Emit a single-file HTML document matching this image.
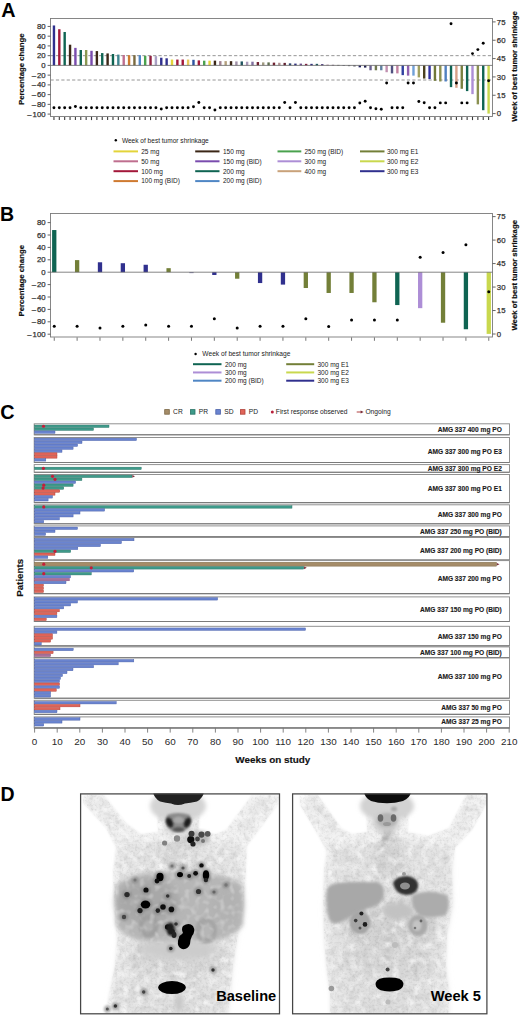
<!DOCTYPE html>
<html><head><meta charset="utf-8"><style>
html,body{margin:0;padding:0;background:#fff;}
svg{display:block;font-family:"Liberation Sans", sans-serif;}
</style></head><body>
<svg width="520" height="1015" viewBox="0 0 520 1015">
<defs>
<clipPath id="clipL"><rect x="80.4" y="793.6" width="199.6" height="219.9"/></clipPath>
<clipPath id="clipR"><rect x="292.5" y="793.6" width="194.5" height="219.9"/></clipPath>
<filter id="b05" x="-50%" y="-50%" width="200%" height="200%"><feGaussianBlur stdDeviation="0.6"/></filter>
<filter id="tex1" x="0" y="0" width="100%" height="100%"><feTurbulence type="fractalNoise" baseFrequency="0.16" numOctaves="2" seed="3" result="n"/><feGaussianBlur in="n" stdDeviation="0.7" result="nb"/><feColorMatrix in="nb" type="matrix" values="0 0 0 0 0 0 0 0 0 0 0 0 0 0 0 0.9 0 0 0 -0.38" result="na"/><feComposite in="na" in2="SourceAlpha" operator="in"/></filter>
<filter id="tex2" x="0" y="0" width="100%" height="100%"><feTurbulence type="fractalNoise" baseFrequency="0.16" numOctaves="2" seed="7" result="n"/><feGaussianBlur in="n" stdDeviation="0.7" result="nb"/><feColorMatrix in="nb" type="matrix" values="0 0 0 0 0 0 0 0 0 0 0 0 0 0 0 0.9 0 0 0 -0.38" result="na"/><feComposite in="na" in2="SourceAlpha" operator="in"/></filter>
<filter id="wtex1" x="0" y="0" width="100%" height="100%"><feTurbulence type="fractalNoise" baseFrequency="0.14" numOctaves="3" seed="11" result="n"/><feGaussianBlur in="n" stdDeviation="0.9" result="nb"/><feColorMatrix in="nb" type="matrix" values="0 0 0 0 1 0 0 0 0 1 0 0 0 0 1 2.6 0 0 0 -1.25" result="na"/><feComposite in="na" in2="SourceAlpha" operator="in"/></filter>
<filter id="wtex2" x="0" y="0" width="100%" height="100%"><feTurbulence type="fractalNoise" baseFrequency="0.14" numOctaves="3" seed="13" result="n"/><feGaussianBlur in="n" stdDeviation="0.9" result="nb"/><feColorMatrix in="nb" type="matrix" values="0 0 0 0 1 0 0 0 0 1 0 0 0 0 1 2.6 0 0 0 -1.25" result="na"/><feComposite in="na" in2="SourceAlpha" operator="in"/></filter>
<filter id="b15" x="-20%" y="-20%" width="140%" height="140%"><feGaussianBlur stdDeviation="1.5"/></filter>
<filter id="wtex3" x="0" y="0" width="100%" height="100%"><feTurbulence type="fractalNoise" baseFrequency="0.2" numOctaves="3" seed="17" result="n"/><feGaussianBlur in="n" stdDeviation="0.8" result="nb"/><feColorMatrix in="nb" type="matrix" values="0 0 0 0 1 0 0 0 0 1 0 0 0 0 1 2.6 0 0 0 -1.25" result="na"/><feComposite in="na" in2="SourceAlpha" operator="in"/></filter>
<filter id="grain" x="0" y="0" width="100%" height="100%"><feTurbulence type="fractalNoise" baseFrequency="0.45" numOctaves="2" seed="23" result="n"/><feGaussianBlur in="n" stdDeviation="0.45" result="nb"/><feColorMatrix in="nb" type="matrix" values="0 0 0 0 0 0 0 0 0 0 0 0 0 0 0 2.2 0 0 0 -1.05" result="na"/><feComposite in="na" in2="SourceAlpha" operator="in"/></filter>
<filter id="b1" x="-20%" y="-20%" width="140%" height="140%"><feGaussianBlur stdDeviation="1"/></filter>
<filter id="b2" x="-20%" y="-20%" width="140%" height="140%"><feGaussianBlur stdDeviation="2"/></filter>
<filter id="b3" x="-20%" y="-20%" width="140%" height="140%"><feGaussianBlur stdDeviation="3.5"/></filter>
</defs>
<text x="1.30" y="16.90" font-size="19.8" text-anchor="start" font-weight="bold" fill="#000" >A</text>
<rect x="50.5" y="18.5" width="442.0" height="98.0" fill="none" stroke="#7a7a7a" stroke-width="0.9"/>
<line x1="50.5" y1="55.66" x2="492.5" y2="55.66" stroke="#8a8a8a" stroke-width="0.9" stroke-dasharray="3.2,2.2"/>
<line x1="50.5" y1="80.01" x2="492.5" y2="80.01" stroke="#8a8a8a" stroke-width="0.9" stroke-dasharray="3.2,2.2"/>
<line x1="47.6" y1="26.44" x2="50.5" y2="26.44" stroke="#555" stroke-width="0.9"/>
<text x="45.60" y="29.04" font-size="7.8" text-anchor="end" font-weight="normal" fill="#333" stroke="#333" stroke-width="0.25">80</text>
<line x1="47.6" y1="36.18" x2="50.5" y2="36.18" stroke="#555" stroke-width="0.9"/>
<text x="45.60" y="38.78" font-size="7.8" text-anchor="end" font-weight="normal" fill="#333" stroke="#333" stroke-width="0.25">60</text>
<line x1="47.6" y1="45.92" x2="50.5" y2="45.92" stroke="#555" stroke-width="0.9"/>
<text x="45.60" y="48.52" font-size="7.8" text-anchor="end" font-weight="normal" fill="#333" stroke="#333" stroke-width="0.25">40</text>
<line x1="47.6" y1="55.66" x2="50.5" y2="55.66" stroke="#555" stroke-width="0.9"/>
<text x="45.60" y="58.26" font-size="7.8" text-anchor="end" font-weight="normal" fill="#333" stroke="#333" stroke-width="0.25">20</text>
<line x1="47.6" y1="65.40" x2="50.5" y2="65.40" stroke="#555" stroke-width="0.9"/>
<text x="45.60" y="68.00" font-size="7.8" text-anchor="end" font-weight="normal" fill="#333" stroke="#333" stroke-width="0.25">0</text>
<line x1="47.6" y1="75.14" x2="50.5" y2="75.14" stroke="#555" stroke-width="0.9"/>
<text x="45.60" y="77.74" font-size="7.8" text-anchor="end" font-weight="normal" fill="#333" stroke="#333" stroke-width="0.25">–<tspan dx="0.9">20</tspan></text>
<line x1="47.6" y1="84.88" x2="50.5" y2="84.88" stroke="#555" stroke-width="0.9"/>
<text x="45.60" y="87.48" font-size="7.8" text-anchor="end" font-weight="normal" fill="#333" stroke="#333" stroke-width="0.25">–<tspan dx="0.9">40</tspan></text>
<line x1="47.6" y1="94.62" x2="50.5" y2="94.62" stroke="#555" stroke-width="0.9"/>
<text x="45.60" y="97.22" font-size="7.8" text-anchor="end" font-weight="normal" fill="#333" stroke="#333" stroke-width="0.25">–<tspan dx="0.9">60</tspan></text>
<line x1="47.6" y1="104.36" x2="50.5" y2="104.36" stroke="#555" stroke-width="0.9"/>
<text x="45.60" y="106.96" font-size="7.8" text-anchor="end" font-weight="normal" fill="#333" stroke="#333" stroke-width="0.25">–<tspan dx="0.9">80</tspan></text>
<line x1="47.6" y1="114.10" x2="50.5" y2="114.10" stroke="#555" stroke-width="0.9"/>
<text x="45.60" y="116.70" font-size="7.8" text-anchor="end" font-weight="normal" fill="#333" stroke="#333" stroke-width="0.25">–<tspan dx="0.9">100</tspan></text>
<line x1="492.5" y1="113.60" x2="495.6" y2="113.60" stroke="#555" stroke-width="0.9"/>
<text x="496.80" y="116.20" font-size="7.8" text-anchor="start" font-weight="normal" fill="#333" stroke="#333" stroke-width="0.25">0</text>
<line x1="492.5" y1="95.26" x2="495.6" y2="95.26" stroke="#555" stroke-width="0.9"/>
<text x="496.80" y="97.86" font-size="7.8" text-anchor="start" font-weight="normal" fill="#333" stroke="#333" stroke-width="0.25">15</text>
<line x1="492.5" y1="76.92" x2="495.6" y2="76.92" stroke="#555" stroke-width="0.9"/>
<text x="496.80" y="79.52" font-size="7.8" text-anchor="start" font-weight="normal" fill="#333" stroke="#333" stroke-width="0.25">30</text>
<line x1="492.5" y1="58.58" x2="495.6" y2="58.58" stroke="#555" stroke-width="0.9"/>
<text x="496.80" y="61.18" font-size="7.8" text-anchor="start" font-weight="normal" fill="#333" stroke="#333" stroke-width="0.25">45</text>
<line x1="492.5" y1="40.24" x2="495.6" y2="40.24" stroke="#555" stroke-width="0.9"/>
<text x="496.80" y="42.84" font-size="7.8" text-anchor="start" font-weight="normal" fill="#333" stroke="#333" stroke-width="0.25">60</text>
<line x1="492.5" y1="21.90" x2="495.6" y2="21.90" stroke="#555" stroke-width="0.9"/>
<text x="496.80" y="24.50" font-size="7.8" text-anchor="start" font-weight="normal" fill="#333" stroke="#333" stroke-width="0.25">75</text>
<text transform="translate(23.9,69.2) rotate(-90)" font-size="7.8" font-weight="bold" text-anchor="middle" fill="#111" stroke="#111" stroke-width="0.18">Percentage change</text>
<text transform="translate(517.2,66.4) rotate(-90)" font-size="7.75" font-weight="bold" text-anchor="middle" fill="#111" stroke="#111" stroke-width="0.18">Week of best tumor shrinkage</text>
<rect x="52.75" y="25.47" width="2.4" height="39.93" fill="#30308e"/>
<line x1="53.95" y1="116.9" x2="53.95" y2="120.1" stroke="#3a3a3a" stroke-width="1.1"/>
<rect x="58.12" y="29.22" width="2.4" height="36.18" fill="#a3183a"/>
<line x1="59.32" y1="116.9" x2="59.32" y2="120.1" stroke="#3a3a3a" stroke-width="1.1"/>
<rect x="63.48" y="31.99" width="2.4" height="33.41" fill="#0f6452"/>
<line x1="64.68" y1="116.9" x2="64.68" y2="120.1" stroke="#3a3a3a" stroke-width="1.1"/>
<rect x="68.85" y="44.70" width="2.4" height="20.70" fill="#3b2616"/>
<line x1="70.05" y1="116.9" x2="70.05" y2="120.1" stroke="#3a3a3a" stroke-width="1.1"/>
<rect x="74.21" y="47.87" width="2.4" height="17.53" fill="#7a4cae"/>
<line x1="75.41" y1="116.9" x2="75.41" y2="120.1" stroke="#3a3a3a" stroke-width="1.1"/>
<rect x="79.58" y="50.01" width="2.4" height="15.39" fill="#0f6452"/>
<line x1="80.78" y1="116.9" x2="80.78" y2="120.1" stroke="#3a3a3a" stroke-width="1.1"/>
<rect x="84.95" y="50.01" width="2.4" height="15.39" fill="#8a9850"/>
<line x1="86.15" y1="116.9" x2="86.15" y2="120.1" stroke="#3a3a3a" stroke-width="1.1"/>
<rect x="90.31" y="50.79" width="2.4" height="14.61" fill="#7a4cae"/>
<line x1="91.51" y1="116.9" x2="91.51" y2="120.1" stroke="#3a3a3a" stroke-width="1.1"/>
<rect x="95.68" y="51.08" width="2.4" height="14.32" fill="#3b2616"/>
<line x1="96.88" y1="116.9" x2="96.88" y2="120.1" stroke="#3a3a3a" stroke-width="1.1"/>
<rect x="101.04" y="53.08" width="2.4" height="12.32" fill="#0f6452"/>
<line x1="102.24" y1="116.9" x2="102.24" y2="120.1" stroke="#3a3a3a" stroke-width="1.1"/>
<rect x="106.41" y="53.42" width="2.4" height="11.98" fill="#3b2616"/>
<line x1="107.61" y1="116.9" x2="107.61" y2="120.1" stroke="#3a3a3a" stroke-width="1.1"/>
<rect x="111.78" y="54.00" width="2.4" height="11.40" fill="#0f6452"/>
<line x1="112.98" y1="116.9" x2="112.98" y2="120.1" stroke="#3a3a3a" stroke-width="1.1"/>
<rect x="117.14" y="54.59" width="2.4" height="10.81" fill="#3f8590"/>
<line x1="118.34" y1="116.9" x2="118.34" y2="120.1" stroke="#3a3a3a" stroke-width="1.1"/>
<rect x="122.51" y="54.98" width="2.4" height="10.42" fill="#bf6f8f"/>
<line x1="123.71" y1="116.9" x2="123.71" y2="120.1" stroke="#3a3a3a" stroke-width="1.1"/>
<rect x="127.87" y="55.17" width="2.4" height="10.23" fill="#cf7a30"/>
<line x1="129.07" y1="116.9" x2="129.07" y2="120.1" stroke="#3a3a3a" stroke-width="1.1"/>
<rect x="133.24" y="55.17" width="2.4" height="10.23" fill="#7a6a40"/>
<line x1="134.44" y1="116.9" x2="134.44" y2="120.1" stroke="#3a3a3a" stroke-width="1.1"/>
<rect x="138.61" y="55.17" width="2.4" height="10.23" fill="#4f86c4"/>
<line x1="139.81" y1="116.9" x2="139.81" y2="120.1" stroke="#3a3a3a" stroke-width="1.1"/>
<rect x="143.97" y="55.81" width="2.4" height="9.59" fill="#4aa24e"/>
<line x1="145.17" y1="116.9" x2="145.17" y2="120.1" stroke="#3a3a3a" stroke-width="1.1"/>
<rect x="149.34" y="55.81" width="2.4" height="9.59" fill="#902040"/>
<line x1="150.54" y1="116.9" x2="150.54" y2="120.1" stroke="#3a3a3a" stroke-width="1.1"/>
<rect x="154.70" y="56.10" width="2.4" height="9.30" fill="#aaa0c4"/>
<line x1="155.90" y1="116.9" x2="155.90" y2="120.1" stroke="#3a3a3a" stroke-width="1.1"/>
<rect x="160.07" y="57.71" width="2.4" height="7.69" fill="#30308e"/>
<line x1="161.27" y1="116.9" x2="161.27" y2="120.1" stroke="#3a3a3a" stroke-width="1.1"/>
<rect x="165.44" y="58.29" width="2.4" height="7.11" fill="#30308e"/>
<line x1="166.64" y1="116.9" x2="166.64" y2="120.1" stroke="#3a3a3a" stroke-width="1.1"/>
<rect x="170.80" y="59.56" width="2.4" height="5.84" fill="#e3d43a"/>
<line x1="172.00" y1="116.9" x2="172.00" y2="120.1" stroke="#3a3a3a" stroke-width="1.1"/>
<rect x="176.17" y="59.56" width="2.4" height="5.84" fill="#a3183a"/>
<line x1="177.37" y1="116.9" x2="177.37" y2="120.1" stroke="#3a3a3a" stroke-width="1.1"/>
<rect x="181.53" y="59.56" width="2.4" height="5.84" fill="#a3183a"/>
<line x1="182.73" y1="116.9" x2="182.73" y2="120.1" stroke="#3a3a3a" stroke-width="1.1"/>
<rect x="186.90" y="59.56" width="2.4" height="5.84" fill="#e8c85a"/>
<line x1="188.10" y1="116.9" x2="188.10" y2="120.1" stroke="#3a3a3a" stroke-width="1.1"/>
<rect x="192.27" y="59.80" width="2.4" height="5.60" fill="#2c52a0"/>
<line x1="193.47" y1="116.9" x2="193.47" y2="120.1" stroke="#3a3a3a" stroke-width="1.1"/>
<rect x="197.63" y="60.38" width="2.4" height="5.02" fill="#a3183a"/>
<line x1="198.83" y1="116.9" x2="198.83" y2="120.1" stroke="#3a3a3a" stroke-width="1.1"/>
<rect x="203.00" y="60.68" width="2.4" height="4.72" fill="#4aa24e"/>
<line x1="204.20" y1="116.9" x2="204.20" y2="120.1" stroke="#3a3a3a" stroke-width="1.1"/>
<rect x="208.36" y="60.68" width="2.4" height="4.72" fill="#e3d43a"/>
<line x1="209.56" y1="116.9" x2="209.56" y2="120.1" stroke="#3a3a3a" stroke-width="1.1"/>
<rect x="213.73" y="60.63" width="2.4" height="4.77" fill="#3b2616"/>
<line x1="214.93" y1="116.9" x2="214.93" y2="120.1" stroke="#3a3a3a" stroke-width="1.1"/>
<rect x="219.10" y="61.11" width="2.4" height="4.29" fill="#a08090"/>
<line x1="220.30" y1="116.9" x2="220.30" y2="120.1" stroke="#3a3a3a" stroke-width="1.1"/>
<rect x="224.46" y="61.11" width="2.4" height="4.29" fill="#b4a07e"/>
<line x1="225.66" y1="116.9" x2="225.66" y2="120.1" stroke="#3a3a3a" stroke-width="1.1"/>
<rect x="229.83" y="61.16" width="2.4" height="4.24" fill="#3b2616"/>
<line x1="231.03" y1="116.9" x2="231.03" y2="120.1" stroke="#3a3a3a" stroke-width="1.1"/>
<rect x="235.19" y="61.41" width="2.4" height="3.99" fill="#a090a8"/>
<line x1="236.39" y1="116.9" x2="236.39" y2="120.1" stroke="#3a3a3a" stroke-width="1.1"/>
<rect x="240.56" y="61.41" width="2.4" height="3.99" fill="#205560"/>
<line x1="241.76" y1="116.9" x2="241.76" y2="120.1" stroke="#3a3a3a" stroke-width="1.1"/>
<rect x="245.93" y="61.70" width="2.4" height="3.70" fill="#a898b8"/>
<line x1="247.13" y1="116.9" x2="247.13" y2="120.1" stroke="#3a3a3a" stroke-width="1.1"/>
<rect x="251.29" y="61.70" width="2.4" height="3.70" fill="#8070a0"/>
<line x1="252.49" y1="116.9" x2="252.49" y2="120.1" stroke="#3a3a3a" stroke-width="1.1"/>
<rect x="256.66" y="62.04" width="2.4" height="3.36" fill="#702030"/>
<line x1="257.86" y1="116.9" x2="257.86" y2="120.1" stroke="#3a3a3a" stroke-width="1.1"/>
<rect x="262.02" y="62.38" width="2.4" height="3.02" fill="#a09a80"/>
<line x1="263.22" y1="116.9" x2="263.22" y2="120.1" stroke="#3a3a3a" stroke-width="1.1"/>
<rect x="267.39" y="62.38" width="2.4" height="3.02" fill="#607050"/>
<line x1="268.59" y1="116.9" x2="268.59" y2="120.1" stroke="#3a3a3a" stroke-width="1.1"/>
<rect x="272.76" y="62.62" width="2.4" height="2.78" fill="#702030"/>
<line x1="273.96" y1="116.9" x2="273.96" y2="120.1" stroke="#3a3a3a" stroke-width="1.1"/>
<rect x="278.12" y="62.77" width="2.4" height="2.63" fill="#b09090"/>
<line x1="279.32" y1="116.9" x2="279.32" y2="120.1" stroke="#3a3a3a" stroke-width="1.1"/>
<rect x="283.49" y="62.87" width="2.4" height="2.53" fill="#602030"/>
<line x1="284.69" y1="116.9" x2="284.69" y2="120.1" stroke="#3a3a3a" stroke-width="1.1"/>
<rect x="288.85" y="63.35" width="2.4" height="2.05" fill="#304870"/>
<line x1="290.05" y1="116.9" x2="290.05" y2="120.1" stroke="#3a3a3a" stroke-width="1.1"/>
<rect x="294.22" y="63.60" width="2.4" height="1.80" fill="#303080"/>
<line x1="295.42" y1="116.9" x2="295.42" y2="120.1" stroke="#3a3a3a" stroke-width="1.1"/>
<rect x="299.59" y="63.60" width="2.4" height="1.80" fill="#705090"/>
<line x1="300.79" y1="116.9" x2="300.79" y2="120.1" stroke="#3a3a3a" stroke-width="1.1"/>
<rect x="304.95" y="63.84" width="2.4" height="1.56" fill="#802040"/>
<line x1="306.15" y1="116.9" x2="306.15" y2="120.1" stroke="#3a3a3a" stroke-width="1.1"/>
<rect x="310.32" y="63.84" width="2.4" height="1.56" fill="#303080"/>
<line x1="311.52" y1="116.9" x2="311.52" y2="120.1" stroke="#3a3a3a" stroke-width="1.1"/>
<rect x="315.68" y="63.84" width="2.4" height="1.56" fill="#205a60"/>
<line x1="316.88" y1="116.9" x2="316.88" y2="120.1" stroke="#3a3a3a" stroke-width="1.1"/>
<rect x="321.05" y="64.09" width="2.4" height="1.31" fill="#504080"/>
<line x1="322.25" y1="116.9" x2="322.25" y2="120.1" stroke="#3a3a3a" stroke-width="1.1"/>
<rect x="326.42" y="64.67" width="2.4" height="0.73" fill="#a07090"/>
<line x1="327.62" y1="116.9" x2="327.62" y2="120.1" stroke="#3a3a3a" stroke-width="1.1"/>
<rect x="331.78" y="64.82" width="2.4" height="0.60" fill="#604060"/>
<line x1="332.98" y1="116.9" x2="332.98" y2="120.1" stroke="#3a3a3a" stroke-width="1.1"/>
<rect x="337.15" y="64.91" width="2.4" height="0.60" fill="#606060"/>
<line x1="338.35" y1="116.9" x2="338.35" y2="120.1" stroke="#3a3a3a" stroke-width="1.1"/>
<rect x="342.51" y="65.01" width="2.4" height="0.60" fill="#505070"/>
<line x1="343.71" y1="116.9" x2="343.71" y2="120.1" stroke="#3a3a3a" stroke-width="1.1"/>
<rect x="347.88" y="65.40" width="2.4" height="0.73" fill="#404050"/>
<line x1="349.08" y1="116.9" x2="349.08" y2="120.1" stroke="#3a3a3a" stroke-width="1.1"/>
<rect x="353.25" y="65.40" width="2.4" height="0.97" fill="#303040"/>
<line x1="354.45" y1="116.9" x2="354.45" y2="120.1" stroke="#3a3a3a" stroke-width="1.1"/>
<rect x="358.61" y="65.40" width="2.4" height="1.95" fill="#202060"/>
<line x1="359.81" y1="116.9" x2="359.81" y2="120.1" stroke="#3a3a3a" stroke-width="1.1"/>
<rect x="363.98" y="65.40" width="2.4" height="2.19" fill="#202050"/>
<line x1="365.18" y1="116.9" x2="365.18" y2="120.1" stroke="#3a3a3a" stroke-width="1.1"/>
<rect x="369.34" y="65.40" width="2.4" height="4.87" fill="#6a6090"/>
<line x1="370.54" y1="116.9" x2="370.54" y2="120.1" stroke="#3a3a3a" stroke-width="1.1"/>
<rect x="374.71" y="65.40" width="2.4" height="4.87" fill="#707850"/>
<line x1="375.91" y1="116.9" x2="375.91" y2="120.1" stroke="#3a3a3a" stroke-width="1.1"/>
<rect x="380.08" y="65.40" width="2.4" height="4.87" fill="#6080a0"/>
<line x1="381.28" y1="116.9" x2="381.28" y2="120.1" stroke="#3a3a3a" stroke-width="1.1"/>
<rect x="385.44" y="65.40" width="2.4" height="6.82" fill="#c090b0"/>
<line x1="386.64" y1="116.9" x2="386.64" y2="120.1" stroke="#3a3a3a" stroke-width="1.1"/>
<rect x="390.81" y="65.40" width="2.4" height="7.99" fill="#505080"/>
<line x1="392.01" y1="116.9" x2="392.01" y2="120.1" stroke="#3a3a3a" stroke-width="1.1"/>
<rect x="396.17" y="65.40" width="2.4" height="7.99" fill="#c080a0"/>
<line x1="397.37" y1="116.9" x2="397.37" y2="120.1" stroke="#3a3a3a" stroke-width="1.1"/>
<rect x="401.54" y="65.40" width="2.4" height="9.74" fill="#3040a0"/>
<line x1="402.74" y1="116.9" x2="402.74" y2="120.1" stroke="#3a3a3a" stroke-width="1.1"/>
<rect x="406.91" y="65.40" width="2.4" height="10.23" fill="#9060b0"/>
<line x1="408.11" y1="116.9" x2="408.11" y2="120.1" stroke="#3a3a3a" stroke-width="1.1"/>
<rect x="412.27" y="65.40" width="2.4" height="10.23" fill="#70a0d8"/>
<line x1="413.47" y1="116.9" x2="413.47" y2="120.1" stroke="#3a3a3a" stroke-width="1.1"/>
<rect x="417.64" y="65.40" width="2.4" height="11.98" fill="#a0a060"/>
<line x1="418.84" y1="116.9" x2="418.84" y2="120.1" stroke="#3a3a3a" stroke-width="1.1"/>
<rect x="423.00" y="65.40" width="2.4" height="13.15" fill="#4a4020"/>
<line x1="424.20" y1="116.9" x2="424.20" y2="120.1" stroke="#3a3a3a" stroke-width="1.1"/>
<rect x="428.37" y="65.40" width="2.4" height="13.64" fill="#3030a0"/>
<line x1="429.57" y1="116.9" x2="429.57" y2="120.1" stroke="#3a3a3a" stroke-width="1.1"/>
<rect x="433.74" y="65.40" width="2.4" height="15.39" fill="#707838"/>
<line x1="434.94" y1="116.9" x2="434.94" y2="120.1" stroke="#3a3a3a" stroke-width="1.1"/>
<rect x="439.10" y="65.40" width="2.4" height="16.07" fill="#8a9050"/>
<line x1="440.30" y1="116.9" x2="440.30" y2="120.1" stroke="#3a3a3a" stroke-width="1.1"/>
<rect x="444.47" y="65.40" width="2.4" height="16.07" fill="#5080c0"/>
<line x1="445.67" y1="116.9" x2="445.67" y2="120.1" stroke="#3a3a3a" stroke-width="1.1"/>
<rect x="449.83" y="65.40" width="2.4" height="21.72" fill="#0f6452"/>
<line x1="451.03" y1="116.9" x2="451.03" y2="120.1" stroke="#3a3a3a" stroke-width="1.1"/>
<rect x="455.20" y="65.40" width="2.4" height="22.40" fill="#d8a088"/>
<line x1="456.40" y1="116.9" x2="456.40" y2="120.1" stroke="#3a3a3a" stroke-width="1.1"/>
<rect x="460.57" y="65.40" width="2.4" height="23.38" fill="#7a8040"/>
<line x1="461.77" y1="116.9" x2="461.77" y2="120.1" stroke="#3a3a3a" stroke-width="1.1"/>
<rect x="465.93" y="65.40" width="2.4" height="25.71" fill="#0f6452"/>
<line x1="467.13" y1="116.9" x2="467.13" y2="120.1" stroke="#3a3a3a" stroke-width="1.1"/>
<rect x="471.30" y="65.40" width="2.4" height="28.73" fill="#ad8ed6"/>
<line x1="472.50" y1="116.9" x2="472.50" y2="120.1" stroke="#3a3a3a" stroke-width="1.1"/>
<rect x="476.66" y="65.40" width="2.4" height="38.96" fill="#8a9050"/>
<line x1="477.86" y1="116.9" x2="477.86" y2="120.1" stroke="#3a3a3a" stroke-width="1.1"/>
<rect x="482.03" y="65.40" width="2.4" height="44.80" fill="#0f6452"/>
<line x1="483.23" y1="116.9" x2="483.23" y2="120.1" stroke="#3a3a3a" stroke-width="1.1"/>
<rect x="487.40" y="65.40" width="2.4" height="48.21" fill="#c9d84e"/>
<line x1="488.60" y1="116.9" x2="488.60" y2="120.1" stroke="#3a3a3a" stroke-width="1.1"/>
<line x1="50.5" y1="65.4" x2="492.5" y2="65.4" stroke="#666" stroke-width="0.8"/>
<circle cx="53.95" cy="107.70" r="1.45" fill="#000"/>
<circle cx="59.32" cy="107.70" r="1.45" fill="#000"/>
<circle cx="64.68" cy="107.70" r="1.45" fill="#000"/>
<circle cx="70.05" cy="107.70" r="1.45" fill="#000"/>
<circle cx="75.41" cy="106.50" r="1.45" fill="#000"/>
<circle cx="80.78" cy="107.70" r="1.45" fill="#000"/>
<circle cx="86.15" cy="107.70" r="1.45" fill="#000"/>
<circle cx="91.51" cy="107.70" r="1.45" fill="#000"/>
<circle cx="96.88" cy="107.70" r="1.45" fill="#000"/>
<circle cx="102.24" cy="107.70" r="1.45" fill="#000"/>
<circle cx="107.61" cy="107.70" r="1.45" fill="#000"/>
<circle cx="112.98" cy="107.70" r="1.45" fill="#000"/>
<circle cx="118.34" cy="107.70" r="1.45" fill="#000"/>
<circle cx="123.71" cy="107.70" r="1.45" fill="#000"/>
<circle cx="129.07" cy="107.70" r="1.45" fill="#000"/>
<circle cx="134.44" cy="107.70" r="1.45" fill="#000"/>
<circle cx="139.81" cy="107.70" r="1.45" fill="#000"/>
<circle cx="145.17" cy="107.70" r="1.45" fill="#000"/>
<circle cx="150.54" cy="107.70" r="1.45" fill="#000"/>
<circle cx="155.90" cy="107.70" r="1.45" fill="#000"/>
<circle cx="161.27" cy="109.00" r="1.45" fill="#000"/>
<circle cx="166.64" cy="107.70" r="1.45" fill="#000"/>
<circle cx="172.00" cy="107.70" r="1.45" fill="#000"/>
<circle cx="177.37" cy="107.70" r="1.45" fill="#000"/>
<circle cx="182.73" cy="107.70" r="1.45" fill="#000"/>
<circle cx="188.10" cy="107.70" r="1.45" fill="#000"/>
<circle cx="193.47" cy="106.70" r="1.45" fill="#000"/>
<circle cx="198.83" cy="102.50" r="1.45" fill="#000"/>
<circle cx="204.20" cy="107.70" r="1.45" fill="#000"/>
<circle cx="209.56" cy="107.70" r="1.45" fill="#000"/>
<circle cx="214.93" cy="110.00" r="1.45" fill="#000"/>
<circle cx="220.30" cy="107.70" r="1.45" fill="#000"/>
<circle cx="225.66" cy="107.70" r="1.45" fill="#000"/>
<circle cx="231.03" cy="107.70" r="1.45" fill="#000"/>
<circle cx="236.39" cy="107.70" r="1.45" fill="#000"/>
<circle cx="241.76" cy="107.70" r="1.45" fill="#000"/>
<circle cx="247.13" cy="107.70" r="1.45" fill="#000"/>
<circle cx="252.49" cy="107.70" r="1.45" fill="#000"/>
<circle cx="257.86" cy="107.70" r="1.45" fill="#000"/>
<circle cx="263.22" cy="107.70" r="1.45" fill="#000"/>
<circle cx="268.59" cy="107.70" r="1.45" fill="#000"/>
<circle cx="273.96" cy="107.70" r="1.45" fill="#000"/>
<circle cx="279.32" cy="107.70" r="1.45" fill="#000"/>
<circle cx="284.69" cy="102.50" r="1.45" fill="#000"/>
<circle cx="290.05" cy="107.70" r="1.45" fill="#000"/>
<circle cx="295.42" cy="102.50" r="1.45" fill="#000"/>
<circle cx="300.79" cy="107.70" r="1.45" fill="#000"/>
<circle cx="306.15" cy="107.70" r="1.45" fill="#000"/>
<circle cx="311.52" cy="107.70" r="1.45" fill="#000"/>
<circle cx="316.88" cy="107.70" r="1.45" fill="#000"/>
<circle cx="322.25" cy="107.70" r="1.45" fill="#000"/>
<circle cx="327.62" cy="107.70" r="1.45" fill="#000"/>
<circle cx="332.98" cy="107.70" r="1.45" fill="#000"/>
<circle cx="338.35" cy="107.70" r="1.45" fill="#000"/>
<circle cx="343.71" cy="107.70" r="1.45" fill="#000"/>
<circle cx="349.08" cy="107.70" r="1.45" fill="#000"/>
<circle cx="354.45" cy="107.70" r="1.45" fill="#000"/>
<circle cx="359.81" cy="103.00" r="1.45" fill="#000"/>
<circle cx="365.18" cy="101.30" r="1.45" fill="#000"/>
<circle cx="370.54" cy="107.70" r="1.45" fill="#000"/>
<circle cx="375.91" cy="108.80" r="1.45" fill="#000"/>
<circle cx="381.28" cy="109.20" r="1.45" fill="#000"/>
<circle cx="386.64" cy="83.00" r="1.45" fill="#000"/>
<circle cx="392.01" cy="107.70" r="1.45" fill="#000"/>
<circle cx="397.37" cy="107.70" r="1.45" fill="#000"/>
<circle cx="402.74" cy="107.70" r="1.45" fill="#000"/>
<circle cx="408.11" cy="83.00" r="1.45" fill="#000"/>
<circle cx="413.47" cy="83.00" r="1.45" fill="#000"/>
<circle cx="418.84" cy="101.50" r="1.45" fill="#000"/>
<circle cx="424.20" cy="102.70" r="1.45" fill="#000"/>
<circle cx="429.57" cy="107.70" r="1.45" fill="#000"/>
<circle cx="434.94" cy="107.70" r="1.45" fill="#000"/>
<circle cx="440.30" cy="102.90" r="1.45" fill="#000"/>
<circle cx="445.67" cy="102.90" r="1.45" fill="#000"/>
<circle cx="451.03" cy="23.70" r="1.45" fill="#000"/>
<circle cx="456.40" cy="83.00" r="1.45" fill="#000"/>
<circle cx="461.77" cy="102.90" r="1.45" fill="#000"/>
<circle cx="467.13" cy="102.90" r="1.45" fill="#000"/>
<circle cx="472.50" cy="53.60" r="1.45" fill="#000"/>
<circle cx="477.86" cy="49.60" r="1.45" fill="#000"/>
<circle cx="483.23" cy="43.30" r="1.45" fill="#000"/>
<circle cx="488.60" cy="80.70" r="1.45" fill="#000"/>
<circle cx="115.8" cy="140.3" r="1.2" fill="#000"/>
<text x="121.90" y="142.60" font-size="6.55" text-anchor="start" font-weight="normal" fill="#222" >Week of best tumor shrinkage</text>
<line x1="113.5" y1="151.40" x2="138" y2="151.40" stroke="#e3d43a" stroke-width="2"/>
<text x="141.20" y="153.70" font-size="6.5" text-anchor="start" font-weight="normal" fill="#222" >25 mg</text>
<line x1="113.5" y1="161.30" x2="138" y2="161.30" stroke="#bf6f8f" stroke-width="2"/>
<text x="141.20" y="163.60" font-size="6.5" text-anchor="start" font-weight="normal" fill="#222" >50 mg</text>
<line x1="113.5" y1="171.20" x2="138" y2="171.20" stroke="#a3183a" stroke-width="2"/>
<text x="141.20" y="173.50" font-size="6.5" text-anchor="start" font-weight="normal" fill="#222" >100 mg</text>
<line x1="113.5" y1="181.10" x2="138" y2="181.10" stroke="#cf7a30" stroke-width="2"/>
<text x="141.20" y="183.40" font-size="6.5" text-anchor="start" font-weight="normal" fill="#222" >100 mg (BID)</text>
<line x1="195.2" y1="151.40" x2="219.5" y2="151.40" stroke="#3b2616" stroke-width="2"/>
<text x="223.00" y="153.70" font-size="6.5" text-anchor="start" font-weight="normal" fill="#222" >150 mg</text>
<line x1="195.2" y1="161.30" x2="219.5" y2="161.30" stroke="#7a4cae" stroke-width="2"/>
<text x="223.00" y="163.60" font-size="6.5" text-anchor="start" font-weight="normal" fill="#222" >150 mg (BID)</text>
<line x1="195.2" y1="171.20" x2="219.5" y2="171.20" stroke="#0f6452" stroke-width="2"/>
<text x="223.00" y="173.50" font-size="6.5" text-anchor="start" font-weight="normal" fill="#222" >200 mg</text>
<line x1="195.2" y1="181.10" x2="219.5" y2="181.10" stroke="#4f86c4" stroke-width="2"/>
<text x="223.00" y="183.40" font-size="6.5" text-anchor="start" font-weight="normal" fill="#222" >200 mg (BID)</text>
<line x1="277.5" y1="151.40" x2="301.3" y2="151.40" stroke="#4aa24e" stroke-width="2"/>
<text x="304.50" y="153.70" font-size="6.5" text-anchor="start" font-weight="normal" fill="#222" >250 mg (BID)</text>
<line x1="277.5" y1="161.30" x2="301.3" y2="161.30" stroke="#ad8ed6" stroke-width="2"/>
<text x="304.50" y="163.60" font-size="6.5" text-anchor="start" font-weight="normal" fill="#222" >300 mg</text>
<line x1="277.5" y1="171.20" x2="301.3" y2="171.20" stroke="#c9a27a" stroke-width="2"/>
<text x="304.50" y="173.50" font-size="6.5" text-anchor="start" font-weight="normal" fill="#222" >400 mg</text>
<line x1="360.0" y1="151.40" x2="384.5" y2="151.40" stroke="#737f38" stroke-width="2"/>
<text x="387.00" y="153.70" font-size="6.5" text-anchor="start" font-weight="normal" fill="#222" >300 mg E1</text>
<line x1="360.0" y1="161.30" x2="384.5" y2="161.30" stroke="#c9d84e" stroke-width="2"/>
<text x="387.00" y="163.60" font-size="6.5" text-anchor="start" font-weight="normal" fill="#222" >300 mg E2</text>
<line x1="360.0" y1="171.20" x2="384.5" y2="171.20" stroke="#30308e" stroke-width="2"/>
<text x="387.00" y="173.50" font-size="6.5" text-anchor="start" font-weight="normal" fill="#222" >300 mg E3</text>
<text x="0.00" y="221.30" font-size="19.5" text-anchor="start" font-weight="bold" fill="#000" >B</text>
<rect x="50.5" y="213.5" width="442.0" height="123.5" fill="none" stroke="#7a7a7a" stroke-width="0.9"/>
<line x1="47.6" y1="222.60" x2="50.5" y2="222.60" stroke="#555" stroke-width="0.9"/>
<text x="45.60" y="225.20" font-size="7.8" text-anchor="end" font-weight="normal" fill="#333" stroke="#333" stroke-width="0.25">80</text>
<line x1="47.6" y1="235.00" x2="50.5" y2="235.00" stroke="#555" stroke-width="0.9"/>
<text x="45.60" y="237.60" font-size="7.8" text-anchor="end" font-weight="normal" fill="#333" stroke="#333" stroke-width="0.25">60</text>
<line x1="47.6" y1="247.40" x2="50.5" y2="247.40" stroke="#555" stroke-width="0.9"/>
<text x="45.60" y="250.00" font-size="7.8" text-anchor="end" font-weight="normal" fill="#333" stroke="#333" stroke-width="0.25">40</text>
<line x1="47.6" y1="259.80" x2="50.5" y2="259.80" stroke="#555" stroke-width="0.9"/>
<text x="45.60" y="262.40" font-size="7.8" text-anchor="end" font-weight="normal" fill="#333" stroke="#333" stroke-width="0.25">20</text>
<line x1="47.6" y1="272.20" x2="50.5" y2="272.20" stroke="#555" stroke-width="0.9"/>
<text x="45.60" y="274.80" font-size="7.8" text-anchor="end" font-weight="normal" fill="#333" stroke="#333" stroke-width="0.25">0</text>
<line x1="47.6" y1="284.60" x2="50.5" y2="284.60" stroke="#555" stroke-width="0.9"/>
<text x="45.60" y="287.20" font-size="7.8" text-anchor="end" font-weight="normal" fill="#333" stroke="#333" stroke-width="0.25">–<tspan dx="0.9">20</tspan></text>
<line x1="47.6" y1="297.00" x2="50.5" y2="297.00" stroke="#555" stroke-width="0.9"/>
<text x="45.60" y="299.60" font-size="7.8" text-anchor="end" font-weight="normal" fill="#333" stroke="#333" stroke-width="0.25">–<tspan dx="0.9">40</tspan></text>
<line x1="47.6" y1="309.40" x2="50.5" y2="309.40" stroke="#555" stroke-width="0.9"/>
<text x="45.60" y="312.00" font-size="7.8" text-anchor="end" font-weight="normal" fill="#333" stroke="#333" stroke-width="0.25">–<tspan dx="0.9">60</tspan></text>
<line x1="47.6" y1="321.80" x2="50.5" y2="321.80" stroke="#555" stroke-width="0.9"/>
<text x="45.60" y="324.40" font-size="7.8" text-anchor="end" font-weight="normal" fill="#333" stroke="#333" stroke-width="0.25">–<tspan dx="0.9">80</tspan></text>
<line x1="47.6" y1="334.20" x2="50.5" y2="334.20" stroke="#555" stroke-width="0.9"/>
<text x="45.60" y="336.80" font-size="7.8" text-anchor="end" font-weight="normal" fill="#333" stroke="#333" stroke-width="0.25">–<tspan dx="0.9">100</tspan></text>
<line x1="492.5" y1="334.00" x2="495.6" y2="334.00" stroke="#555" stroke-width="0.9"/>
<text x="496.80" y="336.60" font-size="7.8" text-anchor="start" font-weight="normal" fill="#333" stroke="#333" stroke-width="0.25">0</text>
<line x1="492.5" y1="310.52" x2="495.6" y2="310.52" stroke="#555" stroke-width="0.9"/>
<text x="496.80" y="313.12" font-size="7.8" text-anchor="start" font-weight="normal" fill="#333" stroke="#333" stroke-width="0.25">15</text>
<line x1="492.5" y1="287.05" x2="495.6" y2="287.05" stroke="#555" stroke-width="0.9"/>
<text x="496.80" y="289.65" font-size="7.8" text-anchor="start" font-weight="normal" fill="#333" stroke="#333" stroke-width="0.25">30</text>
<line x1="492.5" y1="263.57" x2="495.6" y2="263.57" stroke="#555" stroke-width="0.9"/>
<text x="496.80" y="266.18" font-size="7.8" text-anchor="start" font-weight="normal" fill="#333" stroke="#333" stroke-width="0.25">45</text>
<line x1="492.5" y1="240.10" x2="495.6" y2="240.10" stroke="#555" stroke-width="0.9"/>
<text x="496.80" y="242.70" font-size="7.8" text-anchor="start" font-weight="normal" fill="#333" stroke="#333" stroke-width="0.25">60</text>
<line x1="492.5" y1="216.62" x2="495.6" y2="216.62" stroke="#555" stroke-width="0.9"/>
<text x="496.80" y="219.22" font-size="7.8" text-anchor="start" font-weight="normal" fill="#333" stroke="#333" stroke-width="0.25">75</text>
<text transform="translate(23.6,280.7) rotate(-90)" font-size="7.8" font-weight="bold" text-anchor="middle" fill="#111" stroke="#111" stroke-width="0.18">Percentage change</text>
<text transform="translate(517.2,275.3) rotate(-90)" font-size="7.75" font-weight="bold" text-anchor="middle" fill="#111" stroke="#111" stroke-width="0.18">Week of best tumor shrinkage</text>
<rect x="52.10" y="230.04" width="4.3" height="42.16" fill="#0f6452"/>
<line x1="54.25" y1="337.4" x2="54.25" y2="340.8" stroke="#666" stroke-width="0.9"/>
<rect x="74.97" y="260.11" width="4.3" height="12.09" fill="#737f38"/>
<line x1="77.12" y1="337.4" x2="77.12" y2="340.8" stroke="#666" stroke-width="0.9"/>
<rect x="97.84" y="262.28" width="4.3" height="9.92" fill="#30308e"/>
<line x1="99.99" y1="337.4" x2="99.99" y2="340.8" stroke="#666" stroke-width="0.9"/>
<rect x="120.71" y="263.21" width="4.3" height="8.99" fill="#30308e"/>
<line x1="122.86" y1="337.4" x2="122.86" y2="340.8" stroke="#666" stroke-width="0.9"/>
<rect x="143.58" y="264.76" width="4.3" height="7.44" fill="#30308e"/>
<line x1="145.73" y1="337.4" x2="145.73" y2="340.8" stroke="#666" stroke-width="0.9"/>
<rect x="166.45" y="268.17" width="4.3" height="4.03" fill="#737f38"/>
<line x1="168.60" y1="337.4" x2="168.60" y2="340.8" stroke="#666" stroke-width="0.9"/>
<rect x="189.32" y="272.20" width="4.3" height="0.93" fill="#7a78a8"/>
<line x1="191.47" y1="337.4" x2="191.47" y2="340.8" stroke="#666" stroke-width="0.9"/>
<rect x="212.19" y="272.20" width="4.3" height="2.79" fill="#30308e"/>
<line x1="214.34" y1="337.4" x2="214.34" y2="340.8" stroke="#666" stroke-width="0.9"/>
<rect x="235.06" y="272.20" width="4.3" height="6.51" fill="#737f38"/>
<line x1="237.21" y1="337.4" x2="237.21" y2="340.8" stroke="#666" stroke-width="0.9"/>
<rect x="257.93" y="272.20" width="4.3" height="10.85" fill="#30308e"/>
<line x1="260.08" y1="337.4" x2="260.08" y2="340.8" stroke="#666" stroke-width="0.9"/>
<rect x="280.80" y="272.20" width="4.3" height="12.40" fill="#30308e"/>
<line x1="282.95" y1="337.4" x2="282.95" y2="340.8" stroke="#666" stroke-width="0.9"/>
<rect x="303.67" y="272.20" width="4.3" height="15.81" fill="#737f38"/>
<line x1="305.82" y1="337.4" x2="305.82" y2="340.8" stroke="#666" stroke-width="0.9"/>
<rect x="326.54" y="272.20" width="4.3" height="20.77" fill="#737f38"/>
<line x1="328.69" y1="337.4" x2="328.69" y2="340.8" stroke="#666" stroke-width="0.9"/>
<rect x="349.41" y="272.20" width="4.3" height="20.77" fill="#737f38"/>
<line x1="351.56" y1="337.4" x2="351.56" y2="340.8" stroke="#666" stroke-width="0.9"/>
<rect x="372.28" y="272.20" width="4.3" height="30.07" fill="#737f38"/>
<line x1="374.43" y1="337.4" x2="374.43" y2="340.8" stroke="#666" stroke-width="0.9"/>
<rect x="395.15" y="272.20" width="4.3" height="32.86" fill="#0f6452"/>
<line x1="397.30" y1="337.4" x2="397.30" y2="340.8" stroke="#666" stroke-width="0.9"/>
<rect x="418.02" y="272.20" width="4.3" height="35.96" fill="#ad8ed6"/>
<line x1="420.17" y1="337.4" x2="420.17" y2="340.8" stroke="#666" stroke-width="0.9"/>
<rect x="440.89" y="272.20" width="4.3" height="50.53" fill="#737f38"/>
<line x1="443.04" y1="337.4" x2="443.04" y2="340.8" stroke="#666" stroke-width="0.9"/>
<rect x="463.76" y="272.20" width="4.3" height="57.04" fill="#0f6452"/>
<line x1="465.91" y1="337.4" x2="465.91" y2="340.8" stroke="#666" stroke-width="0.9"/>
<rect x="486.63" y="272.20" width="4.3" height="61.69" fill="#c9d84e"/>
<line x1="488.78" y1="337.4" x2="488.78" y2="340.8" stroke="#666" stroke-width="0.9"/>
<line x1="50.5" y1="272.2" x2="492.5" y2="272.2" stroke="#666" stroke-width="0.8"/>
<circle cx="54.25" cy="326.20" r="1.5" fill="#000"/>
<circle cx="77.12" cy="326.20" r="1.5" fill="#000"/>
<circle cx="99.99" cy="328.00" r="1.5" fill="#000"/>
<circle cx="122.86" cy="326.20" r="1.5" fill="#000"/>
<circle cx="145.73" cy="325.00" r="1.5" fill="#000"/>
<circle cx="168.60" cy="326.20" r="1.5" fill="#000"/>
<circle cx="191.47" cy="326.20" r="1.5" fill="#000"/>
<circle cx="214.34" cy="318.80" r="1.5" fill="#000"/>
<circle cx="237.21" cy="328.00" r="1.5" fill="#000"/>
<circle cx="260.08" cy="326.20" r="1.5" fill="#000"/>
<circle cx="282.95" cy="326.20" r="1.5" fill="#000"/>
<circle cx="305.82" cy="318.80" r="1.5" fill="#000"/>
<circle cx="328.69" cy="326.50" r="1.5" fill="#000"/>
<circle cx="351.56" cy="320.00" r="1.5" fill="#000"/>
<circle cx="374.43" cy="320.00" r="1.5" fill="#000"/>
<circle cx="397.30" cy="320.00" r="1.5" fill="#000"/>
<circle cx="420.17" cy="257.30" r="1.5" fill="#000"/>
<circle cx="443.04" cy="252.60" r="1.5" fill="#000"/>
<circle cx="465.91" cy="244.80" r="1.5" fill="#000"/>
<circle cx="488.78" cy="291.70" r="1.5" fill="#000"/>
<circle cx="195.6" cy="354.0" r="1.2" fill="#000"/>
<text x="202.30" y="356.30" font-size="6.65" text-anchor="start" font-weight="normal" fill="#222" >Week of best tumor shrinkage</text>
<line x1="193.0" y1="364.20" x2="221.5" y2="364.20" stroke="#0f6452" stroke-width="2"/>
<text x="225.00" y="366.50" font-size="6.5" text-anchor="start" font-weight="normal" fill="#222" >200 mg</text>
<line x1="193.0" y1="372.45" x2="221.5" y2="372.45" stroke="#ad8ed6" stroke-width="2"/>
<text x="225.00" y="374.75" font-size="6.5" text-anchor="start" font-weight="normal" fill="#222" >300 mg</text>
<line x1="193.0" y1="380.70" x2="221.5" y2="380.70" stroke="#4f86c4" stroke-width="2"/>
<text x="225.00" y="383.00" font-size="6.5" text-anchor="start" font-weight="normal" fill="#222" >200 mg (BID)</text>
<line x1="286.2" y1="364.20" x2="314.2" y2="364.20" stroke="#737f38" stroke-width="2"/>
<text x="317.50" y="366.50" font-size="6.5" text-anchor="start" font-weight="normal" fill="#222" >300 mg E1</text>
<line x1="286.2" y1="372.45" x2="314.2" y2="372.45" stroke="#c9d84e" stroke-width="2"/>
<text x="317.50" y="374.75" font-size="6.5" text-anchor="start" font-weight="normal" fill="#222" >300 mg E2</text>
<line x1="286.2" y1="380.70" x2="314.2" y2="380.70" stroke="#30308e" stroke-width="2"/>
<text x="317.50" y="383.00" font-size="6.5" text-anchor="start" font-weight="normal" fill="#222" >300 mg E3</text>
<text x="0.20" y="418.70" font-size="19.8" text-anchor="start" font-weight="bold" fill="#000" >C</text>
<rect x="164.70000000000002" y="409.6" width="4.6" height="4.6" fill="#a58c68" stroke="#7a6644" stroke-width="0.8"/>
<text x="173.10" y="414.30" font-size="6.7" text-anchor="start" font-weight="normal" fill="#222" >CR</text>
<rect x="190.4" y="409.6" width="4.6" height="4.6" fill="#3e9a8a" stroke="#2a7466" stroke-width="0.8"/>
<text x="198.80" y="414.30" font-size="6.7" text-anchor="start" font-weight="normal" fill="#222" >PR</text>
<rect x="215.8" y="409.6" width="4.6" height="4.6" fill="#6a84d0" stroke="#4a60a8" stroke-width="0.8"/>
<text x="224.20" y="414.30" font-size="6.7" text-anchor="start" font-weight="normal" fill="#222" >SD</text>
<rect x="240.4" y="409.6" width="4.6" height="4.6" fill="#e06458" stroke="#b04038" stroke-width="0.8"/>
<text x="248.80" y="414.30" font-size="6.7" text-anchor="start" font-weight="normal" fill="#222" >PD</text>
<circle cx="272.3" cy="412.0" r="1.5" fill="#b8203c"/>
<text x="275.80" y="414.30" font-size="6.7" text-anchor="start" font-weight="normal" fill="#222" >First response observed</text>
<line x1="356.7" y1="412.0" x2="362" y2="412.0" stroke="#b04040" stroke-width="1"/>
<path d="M360.6,410.4 L363.6,412 L360.6,413.6 Z" fill="#7a2e3a"/>
<text x="365.40" y="414.30" font-size="6.7" text-anchor="start" font-weight="normal" fill="#222" >Ongoing</text>
<rect x="34.20" y="423.80" width="475.30" height="11.00" fill="#fff" stroke="#8c8c8c" stroke-width="0.95"/>
<line x1="34.20" y1="434.80" x2="509.50" y2="434.80" stroke="#7a7a7a" stroke-width="1.1"/>
<rect x="34.60" y="425.05" width="74.40" height="2.43" fill="#3e9a8a" stroke="#2a7466" stroke-width="0.45"/>
<rect x="34.60" y="427.98" width="58.90" height="2.43" fill="#3e9a8a" stroke="#2a7466" stroke-width="0.45"/>
<rect x="34.60" y="430.91" width="20.40" height="2.43" fill="#6a84d0" stroke="#4a60a8" stroke-width="0.45"/>
<circle cx="43.50" cy="426.26" r="1.6" fill="#c41e3a"/>
<text x="501.80" y="431.65" font-size="6.6" text-anchor="end" font-weight="bold" fill="#1a1a1a" stroke="#1a1a1a" stroke-width="0.12">AMG 337 400 mg PO</text>
<rect x="34.20" y="437.50" width="475.30" height="25.00" fill="#fff" stroke="#8c8c8c" stroke-width="0.95"/>
<line x1="34.20" y1="462.50" x2="509.50" y2="462.50" stroke="#7a7a7a" stroke-width="1.1"/>
<rect x="34.60" y="438.15" width="101.90" height="2.43" fill="#6a84d0" stroke="#4a60a8" stroke-width="0.45"/>
<rect x="34.60" y="441.08" width="47.40" height="2.43" fill="#6a84d0" stroke="#4a60a8" stroke-width="0.45"/>
<rect x="34.60" y="444.01" width="43.00" height="2.43" fill="#6a84d0" stroke="#4a60a8" stroke-width="0.45"/>
<rect x="34.60" y="446.94" width="38.50" height="2.43" fill="#6a84d0" stroke="#4a60a8" stroke-width="0.45"/>
<rect x="34.60" y="449.87" width="27.40" height="2.43" fill="#6a84d0" stroke="#4a60a8" stroke-width="0.45"/>
<rect x="34.60" y="452.80" width="22.40" height="2.43" fill="#e06458" stroke="#b04038" stroke-width="0.45"/>
<rect x="34.60" y="455.73" width="22.40" height="2.43" fill="#e06458" stroke="#b04038" stroke-width="0.45"/>
<rect x="34.60" y="458.66" width="11.20" height="2.43" fill="#6a84d0" stroke="#4a60a8" stroke-width="0.45"/>
<text x="501.80" y="453.65" font-size="6.6" text-anchor="end" font-weight="bold" fill="#1a1a1a" stroke="#1a1a1a" stroke-width="0.12">AMG 337 300 mg PO E3</text>
<rect x="34.20" y="464.60" width="475.30" height="7.70" fill="#fff" stroke="#8c8c8c" stroke-width="0.95"/>
<line x1="34.20" y1="472.30" x2="509.50" y2="472.30" stroke="#7a7a7a" stroke-width="1.1"/>
<rect x="34.60" y="467.15" width="106.60" height="2.43" fill="#3e9a8a" stroke="#2a7466" stroke-width="0.45"/>
<circle cx="43.40" cy="468.36" r="1.6" fill="#c41e3a"/>
<text x="501.80" y="471.05" font-size="6.6" text-anchor="end" font-weight="bold" fill="#1a1a1a" stroke="#1a1a1a" stroke-width="0.12">AMG 337 300 mg PO E2</text>
<rect x="34.20" y="474.50" width="475.30" height="28.10" fill="#fff" stroke="#8c8c8c" stroke-width="0.95"/>
<line x1="34.20" y1="502.60" x2="509.50" y2="502.60" stroke="#7a7a7a" stroke-width="1.1"/>
<rect x="34.60" y="475.15" width="97.40" height="2.43" fill="#3e9a8a" stroke="#2a7466" stroke-width="0.45"/>
<rect x="34.60" y="478.08" width="47.30" height="2.43" fill="#3e9a8a" stroke="#2a7466" stroke-width="0.45"/>
<rect x="34.60" y="481.01" width="41.00" height="2.43" fill="#6a84d0" stroke="#4a60a8" stroke-width="0.45"/>
<rect x="34.60" y="483.94" width="38.50" height="2.43" fill="#3e9a8a" stroke="#2a7466" stroke-width="0.45"/>
<rect x="34.60" y="486.87" width="29.15" height="2.43" fill="#3e9a8a" stroke="#2a7466" stroke-width="0.45"/>
<rect x="34.60" y="489.80" width="25.15" height="2.43" fill="#e06458" stroke="#b04038" stroke-width="0.45"/>
<rect x="34.60" y="492.73" width="20.40" height="2.43" fill="#e06458" stroke="#b04038" stroke-width="0.45"/>
<rect x="34.60" y="495.66" width="17.90" height="2.43" fill="#6a84d0" stroke="#4a60a8" stroke-width="0.45"/>
<rect x="34.60" y="498.59" width="13.50" height="2.43" fill="#6a84d0" stroke="#4a60a8" stroke-width="0.45"/>
<circle cx="52.50" cy="476.36" r="1.6" fill="#c41e3a"/>
<path d="M132.30,475.06 L135.00,476.36 L132.30,477.66 Z" fill="#7a2e3a"/>
<circle cx="55.00" cy="479.29" r="1.6" fill="#c41e3a"/>
<circle cx="43.75" cy="485.15" r="1.6" fill="#c41e3a"/>
<circle cx="43.10" cy="488.08" r="1.6" fill="#c41e3a"/>
<text x="501.80" y="490.55" font-size="6.6" text-anchor="end" font-weight="bold" fill="#1a1a1a" stroke="#1a1a1a" stroke-width="0.12">AMG 337 300 mg PO E1</text>
<rect x="34.20" y="504.80" width="475.30" height="19.00" fill="#fff" stroke="#8c8c8c" stroke-width="0.95"/>
<line x1="34.20" y1="523.80" x2="509.50" y2="523.80" stroke="#7a7a7a" stroke-width="1.1"/>
<rect x="34.60" y="505.75" width="257.40" height="2.43" fill="#3e9a8a" stroke="#2a7466" stroke-width="0.45"/>
<rect x="34.60" y="508.68" width="70.00" height="2.43" fill="#6a84d0" stroke="#4a60a8" stroke-width="0.45"/>
<rect x="34.60" y="511.61" width="45.40" height="2.43" fill="#6a84d0" stroke="#4a60a8" stroke-width="0.45"/>
<rect x="34.60" y="514.54" width="38.50" height="2.43" fill="#6a84d0" stroke="#4a60a8" stroke-width="0.45"/>
<rect x="34.60" y="517.47" width="24.80" height="2.43" fill="#6a84d0" stroke="#4a60a8" stroke-width="0.45"/>
<rect x="34.60" y="520.40" width="9.15" height="2.43" fill="#6a84d0" stroke="#4a60a8" stroke-width="0.45"/>
<circle cx="43.75" cy="506.96" r="1.6" fill="#c41e3a"/>
<text x="501.80" y="516.55" font-size="6.6" text-anchor="end" font-weight="bold" fill="#1a1a1a" stroke="#1a1a1a" stroke-width="0.12">AMG 337 300 mg PO</text>
<rect x="34.20" y="525.90" width="475.30" height="10.80" fill="#fff" stroke="#8c8c8c" stroke-width="0.95"/>
<line x1="34.20" y1="536.70" x2="509.50" y2="536.70" stroke="#7a7a7a" stroke-width="1.1"/>
<rect x="34.60" y="527.05" width="42.90" height="2.43" fill="#6a84d0" stroke="#4a60a8" stroke-width="0.45"/>
<rect x="34.60" y="529.98" width="20.40" height="2.43" fill="#6a84d0" stroke="#4a60a8" stroke-width="0.45"/>
<rect x="34.60" y="532.91" width="11.00" height="2.43" fill="#6a84d0" stroke="#4a60a8" stroke-width="0.45"/>
<text x="501.80" y="533.75" font-size="6.6" text-anchor="end" font-weight="bold" fill="#1a1a1a" stroke="#1a1a1a" stroke-width="0.12">AMG 337 250 mg PO (BID)</text>
<rect x="34.20" y="537.50" width="475.30" height="22.50" fill="#fff" stroke="#8c8c8c" stroke-width="0.95"/>
<line x1="34.20" y1="560.00" x2="509.50" y2="560.00" stroke="#7a7a7a" stroke-width="1.1"/>
<rect x="34.60" y="538.35" width="99.40" height="2.43" fill="#6a84d0" stroke="#4a60a8" stroke-width="0.45"/>
<rect x="34.60" y="541.28" width="86.90" height="2.43" fill="#6a84d0" stroke="#4a60a8" stroke-width="0.45"/>
<rect x="34.60" y="544.21" width="65.90" height="2.43" fill="#6a84d0" stroke="#4a60a8" stroke-width="0.45"/>
<rect x="34.60" y="547.14" width="43.20" height="2.43" fill="#6a84d0" stroke="#4a60a8" stroke-width="0.45"/>
<rect x="34.60" y="550.07" width="36.10" height="2.43" fill="#3e9a8a" stroke="#2a7466" stroke-width="0.45"/>
<rect x="34.60" y="553.00" width="20.40" height="2.43" fill="#e06458" stroke="#b04038" stroke-width="0.45"/>
<rect x="34.60" y="555.93" width="13.20" height="2.43" fill="#6a84d0" stroke="#4a60a8" stroke-width="0.45"/>
<circle cx="55.00" cy="551.28" r="1.6" fill="#c41e3a"/>
<text x="501.80" y="552.85" font-size="6.6" text-anchor="end" font-weight="bold" fill="#1a1a1a" stroke="#1a1a1a" stroke-width="0.12">AMG 337 200 mg PO (BID)</text>
<rect x="34.20" y="560.60" width="475.30" height="33.00" fill="#fff" stroke="#8c8c8c" stroke-width="0.95"/>
<line x1="34.20" y1="593.60" x2="509.50" y2="593.60" stroke="#7a7a7a" stroke-width="1.1"/>
<rect x="34.60" y="562.25" width="461.90" height="3.90" fill="#a58c68" stroke="#7a6644" stroke-width="0.45"/>
<rect x="34.60" y="566.65" width="269.15" height="2.43" fill="#3e9a8a" stroke="#2a7466" stroke-width="0.45"/>
<rect x="34.60" y="569.58" width="99.15" height="2.43" fill="#6a84d0" stroke="#4a60a8" stroke-width="0.45"/>
<rect x="34.60" y="572.51" width="56.65" height="2.43" fill="#3e9a8a" stroke="#2a7466" stroke-width="0.45"/>
<rect x="34.60" y="575.44" width="35.90" height="2.43" fill="#6a84d0" stroke="#4a60a8" stroke-width="0.45"/>
<rect x="34.60" y="578.37" width="34.80" height="2.43" fill="#a8709a" stroke="#804a78" stroke-width="0.45"/>
<rect x="34.60" y="581.30" width="31.40" height="2.43" fill="#6a84d0" stroke="#4a60a8" stroke-width="0.45"/>
<rect x="34.60" y="584.23" width="8.90" height="2.43" fill="#e06458" stroke="#b04038" stroke-width="0.45"/>
<rect x="34.60" y="587.16" width="8.90" height="2.43" fill="#e06458" stroke="#b04038" stroke-width="0.45"/>
<rect x="34.60" y="590.09" width="8.90" height="2.43" fill="#e06458" stroke="#b04038" stroke-width="0.45"/>
<circle cx="43.75" cy="564.20" r="1.6" fill="#c41e3a"/>
<path d="M496.80,562.90 L499.50,564.20 L496.80,565.50 Z" fill="#7a2e3a"/>
<circle cx="91.25" cy="567.87" r="1.6" fill="#c41e3a"/>
<path d="M304.05,566.57 L306.75,567.87 L304.05,569.16 Z" fill="#7a2e3a"/>
<circle cx="43.75" cy="573.72" r="1.6" fill="#c41e3a"/>
<text x="501.80" y="580.75" font-size="6.6" text-anchor="end" font-weight="bold" fill="#1a1a1a" stroke="#1a1a1a" stroke-width="0.12">AMG 337 200 mg PO</text>
<rect x="34.20" y="596.90" width="475.30" height="24.60" fill="#fff" stroke="#8c8c8c" stroke-width="0.95"/>
<line x1="34.20" y1="621.50" x2="509.50" y2="621.50" stroke="#7a7a7a" stroke-width="1.1"/>
<rect x="34.60" y="597.65" width="183.00" height="2.43" fill="#6a84d0" stroke="#4a60a8" stroke-width="0.45"/>
<rect x="34.60" y="600.58" width="42.90" height="2.43" fill="#6a84d0" stroke="#4a60a8" stroke-width="0.45"/>
<rect x="34.60" y="603.51" width="36.00" height="2.43" fill="#6a84d0" stroke="#4a60a8" stroke-width="0.45"/>
<rect x="34.60" y="606.44" width="29.15" height="2.43" fill="#6a84d0" stroke="#4a60a8" stroke-width="0.45"/>
<rect x="34.60" y="609.37" width="24.80" height="2.43" fill="#e06458" stroke="#b04038" stroke-width="0.45"/>
<rect x="34.60" y="612.30" width="22.30" height="2.43" fill="#e06458" stroke="#b04038" stroke-width="0.45"/>
<rect x="34.60" y="615.23" width="22.30" height="2.43" fill="#6a84d0" stroke="#4a60a8" stroke-width="0.45"/>
<rect x="34.60" y="618.16" width="11.65" height="2.43" fill="#e06458" stroke="#b04038" stroke-width="0.45"/>
<text x="501.80" y="612.35" font-size="6.6" text-anchor="end" font-weight="bold" fill="#1a1a1a" stroke="#1a1a1a" stroke-width="0.12">AMG 337 150 mg PO (BID)</text>
<rect x="34.20" y="626.30" width="475.30" height="19.60" fill="#fff" stroke="#8c8c8c" stroke-width="0.95"/>
<line x1="34.20" y1="645.90" x2="509.50" y2="645.90" stroke="#7a7a7a" stroke-width="1.1"/>
<rect x="34.60" y="627.95" width="270.90" height="2.43" fill="#6a84d0" stroke="#4a60a8" stroke-width="0.45"/>
<rect x="34.60" y="630.88" width="22.30" height="2.43" fill="#6a84d0" stroke="#4a60a8" stroke-width="0.45"/>
<rect x="34.60" y="633.81" width="17.90" height="2.43" fill="#e06458" stroke="#b04038" stroke-width="0.45"/>
<rect x="34.60" y="636.74" width="17.90" height="2.43" fill="#e06458" stroke="#b04038" stroke-width="0.45"/>
<rect x="34.60" y="639.67" width="16.00" height="2.43" fill="#e06458" stroke="#b04038" stroke-width="0.45"/>
<rect x="34.60" y="642.60" width="6.65" height="2.43" fill="#6a84d0" stroke="#4a60a8" stroke-width="0.45"/>
<text x="501.80" y="639.25" font-size="6.6" text-anchor="end" font-weight="bold" fill="#1a1a1a" stroke="#1a1a1a" stroke-width="0.12">AMG 337 150 mg PO</text>
<rect x="34.20" y="646.90" width="475.30" height="10.60" fill="#fff" stroke="#8c8c8c" stroke-width="0.95"/>
<line x1="34.20" y1="657.50" x2="509.50" y2="657.50" stroke="#7a7a7a" stroke-width="1.1"/>
<rect x="34.60" y="648.25" width="38.60" height="2.43" fill="#6a84d0" stroke="#4a60a8" stroke-width="0.45"/>
<rect x="34.60" y="651.18" width="18.50" height="2.43" fill="#e06458" stroke="#b04038" stroke-width="0.45"/>
<rect x="34.60" y="654.11" width="16.00" height="2.43" fill="#a8709a" stroke="#804a78" stroke-width="0.45"/>
<text x="501.80" y="655.35" font-size="6.6" text-anchor="end" font-weight="bold" fill="#1a1a1a" stroke="#1a1a1a" stroke-width="0.12">AMG 337 100 mg PO (BID)</text>
<rect x="34.20" y="658.00" width="475.30" height="40.20" fill="#fff" stroke="#8c8c8c" stroke-width="0.95"/>
<line x1="34.20" y1="698.20" x2="509.50" y2="698.20" stroke="#7a7a7a" stroke-width="1.1"/>
<rect x="34.60" y="659.50" width="99.20" height="2.43" fill="#6a84d0" stroke="#4a60a8" stroke-width="0.45"/>
<rect x="34.60" y="662.43" width="83.60" height="2.43" fill="#6a84d0" stroke="#4a60a8" stroke-width="0.45"/>
<rect x="34.60" y="665.36" width="59.00" height="2.43" fill="#6a84d0" stroke="#4a60a8" stroke-width="0.45"/>
<rect x="34.60" y="668.29" width="38.40" height="2.43" fill="#6a84d0" stroke="#4a60a8" stroke-width="0.45"/>
<rect x="34.60" y="671.22" width="32.40" height="2.43" fill="#6a84d0" stroke="#4a60a8" stroke-width="0.45"/>
<rect x="34.60" y="674.15" width="27.90" height="2.43" fill="#6a84d0" stroke="#4a60a8" stroke-width="0.45"/>
<rect x="34.60" y="677.08" width="25.90" height="2.43" fill="#6a84d0" stroke="#4a60a8" stroke-width="0.45"/>
<rect x="34.60" y="680.01" width="24.90" height="2.43" fill="#6a84d0" stroke="#4a60a8" stroke-width="0.45"/>
<rect x="34.60" y="682.94" width="24.90" height="2.43" fill="#e06458" stroke="#b04038" stroke-width="0.45"/>
<rect x="34.60" y="685.87" width="24.90" height="2.43" fill="#6a84d0" stroke="#4a60a8" stroke-width="0.45"/>
<rect x="34.60" y="688.80" width="21.65" height="2.43" fill="#e06458" stroke="#b04038" stroke-width="0.45"/>
<rect x="34.60" y="691.73" width="16.00" height="2.43" fill="#6a84d0" stroke="#4a60a8" stroke-width="0.45"/>
<rect x="34.60" y="694.66" width="16.00" height="2.43" fill="#6a84d0" stroke="#4a60a8" stroke-width="0.45"/>
<text x="501.80" y="679.35" font-size="6.6" text-anchor="end" font-weight="bold" fill="#1a1a1a" stroke="#1a1a1a" stroke-width="0.12">AMG 337 100 mg PO</text>
<rect x="34.20" y="700.30" width="475.30" height="14.10" fill="#fff" stroke="#8c8c8c" stroke-width="0.95"/>
<line x1="34.20" y1="714.40" x2="509.50" y2="714.40" stroke="#7a7a7a" stroke-width="1.1"/>
<rect x="34.60" y="701.50" width="81.60" height="2.43" fill="#6a84d0" stroke="#4a60a8" stroke-width="0.45"/>
<rect x="34.60" y="704.43" width="45.40" height="2.43" fill="#e06458" stroke="#b04038" stroke-width="0.45"/>
<rect x="34.60" y="707.36" width="25.40" height="2.43" fill="#e06458" stroke="#b04038" stroke-width="0.45"/>
<rect x="34.60" y="710.29" width="22.40" height="2.43" fill="#6a84d0" stroke="#4a60a8" stroke-width="0.45"/>
<text x="501.80" y="709.65" font-size="6.6" text-anchor="end" font-weight="bold" fill="#1a1a1a" stroke="#1a1a1a" stroke-width="0.12">AMG 337 50 mg PO</text>
<rect x="34.20" y="716.90" width="475.30" height="11.10" fill="#fff" stroke="#8c8c8c" stroke-width="0.95"/>
<line x1="34.20" y1="728.00" x2="509.50" y2="728.00" stroke="#7a7a7a" stroke-width="1.1"/>
<rect x="34.60" y="717.75" width="45.40" height="2.43" fill="#6a84d0" stroke="#4a60a8" stroke-width="0.45"/>
<rect x="34.60" y="720.68" width="27.40" height="2.43" fill="#6a84d0" stroke="#4a60a8" stroke-width="0.45"/>
<rect x="34.60" y="723.61" width="9.15" height="2.43" fill="#6a84d0" stroke="#4a60a8" stroke-width="0.45"/>
<text x="501.80" y="724.25" font-size="6.6" text-anchor="end" font-weight="bold" fill="#1a1a1a" stroke="#1a1a1a" stroke-width="0.12">AMG 337 25 mg PO</text>
<line x1="34.6" y1="727.9" x2="509.4" y2="727.9" stroke="#7a7a7a" stroke-width="1"/>
<line x1="34.60" y1="727.9" x2="34.60" y2="732.6" stroke="#777" stroke-width="0.9"/>
<text x="34.60" y="745.40" font-size="9.9" text-anchor="middle" font-weight="normal" fill="#2a2a2a" >0</text>
<line x1="57.20" y1="727.9" x2="57.20" y2="732.6" stroke="#777" stroke-width="0.9"/>
<text x="57.20" y="745.40" font-size="9.9" text-anchor="middle" font-weight="normal" fill="#2a2a2a" >10</text>
<line x1="79.80" y1="727.9" x2="79.80" y2="732.6" stroke="#777" stroke-width="0.9"/>
<text x="79.80" y="745.40" font-size="9.9" text-anchor="middle" font-weight="normal" fill="#2a2a2a" >20</text>
<line x1="102.40" y1="727.9" x2="102.40" y2="732.6" stroke="#777" stroke-width="0.9"/>
<text x="102.40" y="745.40" font-size="9.9" text-anchor="middle" font-weight="normal" fill="#2a2a2a" >30</text>
<line x1="125.00" y1="727.9" x2="125.00" y2="732.6" stroke="#777" stroke-width="0.9"/>
<text x="125.00" y="745.40" font-size="9.9" text-anchor="middle" font-weight="normal" fill="#2a2a2a" >40</text>
<line x1="147.60" y1="727.9" x2="147.60" y2="732.6" stroke="#777" stroke-width="0.9"/>
<text x="147.60" y="745.40" font-size="9.9" text-anchor="middle" font-weight="normal" fill="#2a2a2a" >50</text>
<line x1="170.20" y1="727.9" x2="170.20" y2="732.6" stroke="#777" stroke-width="0.9"/>
<text x="170.20" y="745.40" font-size="9.9" text-anchor="middle" font-weight="normal" fill="#2a2a2a" >60</text>
<line x1="192.80" y1="727.9" x2="192.80" y2="732.6" stroke="#777" stroke-width="0.9"/>
<text x="192.80" y="745.40" font-size="9.9" text-anchor="middle" font-weight="normal" fill="#2a2a2a" >70</text>
<line x1="215.40" y1="727.9" x2="215.40" y2="732.6" stroke="#777" stroke-width="0.9"/>
<text x="215.40" y="745.40" font-size="9.9" text-anchor="middle" font-weight="normal" fill="#2a2a2a" >80</text>
<line x1="238.00" y1="727.9" x2="238.00" y2="732.6" stroke="#777" stroke-width="0.9"/>
<text x="238.00" y="745.40" font-size="9.9" text-anchor="middle" font-weight="normal" fill="#2a2a2a" >90</text>
<line x1="260.60" y1="727.9" x2="260.60" y2="732.6" stroke="#777" stroke-width="0.9"/>
<text x="260.60" y="745.40" font-size="9.9" text-anchor="middle" font-weight="normal" fill="#2a2a2a" >100</text>
<line x1="283.20" y1="727.9" x2="283.20" y2="732.6" stroke="#777" stroke-width="0.9"/>
<text x="283.20" y="745.40" font-size="9.9" text-anchor="middle" font-weight="normal" fill="#2a2a2a" >110</text>
<line x1="305.80" y1="727.9" x2="305.80" y2="732.6" stroke="#777" stroke-width="0.9"/>
<text x="305.80" y="745.40" font-size="9.9" text-anchor="middle" font-weight="normal" fill="#2a2a2a" >120</text>
<line x1="328.40" y1="727.9" x2="328.40" y2="732.6" stroke="#777" stroke-width="0.9"/>
<text x="328.40" y="745.40" font-size="9.9" text-anchor="middle" font-weight="normal" fill="#2a2a2a" >130</text>
<line x1="351.00" y1="727.9" x2="351.00" y2="732.6" stroke="#777" stroke-width="0.9"/>
<text x="351.00" y="745.40" font-size="9.9" text-anchor="middle" font-weight="normal" fill="#2a2a2a" >140</text>
<line x1="373.60" y1="727.9" x2="373.60" y2="732.6" stroke="#777" stroke-width="0.9"/>
<text x="373.60" y="745.40" font-size="9.9" text-anchor="middle" font-weight="normal" fill="#2a2a2a" >150</text>
<line x1="396.20" y1="727.9" x2="396.20" y2="732.6" stroke="#777" stroke-width="0.9"/>
<text x="396.20" y="745.40" font-size="9.9" text-anchor="middle" font-weight="normal" fill="#2a2a2a" >160</text>
<line x1="418.80" y1="727.9" x2="418.80" y2="732.6" stroke="#777" stroke-width="0.9"/>
<text x="418.80" y="745.40" font-size="9.9" text-anchor="middle" font-weight="normal" fill="#2a2a2a" >170</text>
<line x1="441.40" y1="727.9" x2="441.40" y2="732.6" stroke="#777" stroke-width="0.9"/>
<text x="441.40" y="745.40" font-size="9.9" text-anchor="middle" font-weight="normal" fill="#2a2a2a" >180</text>
<line x1="464.00" y1="727.9" x2="464.00" y2="732.6" stroke="#777" stroke-width="0.9"/>
<text x="464.00" y="745.40" font-size="9.9" text-anchor="middle" font-weight="normal" fill="#2a2a2a" >190</text>
<line x1="486.60" y1="727.9" x2="486.60" y2="732.6" stroke="#777" stroke-width="0.9"/>
<text x="486.60" y="745.40" font-size="9.9" text-anchor="middle" font-weight="normal" fill="#2a2a2a" >200</text>
<line x1="509.20" y1="727.9" x2="509.20" y2="732.6" stroke="#777" stroke-width="0.9"/>
<text x="509.20" y="745.40" font-size="9.9" text-anchor="middle" font-weight="normal" fill="#2a2a2a" >210</text>
<text x="272.80" y="762.90" font-size="9.9" text-anchor="middle" font-weight="bold" fill="#111" stroke="#111" stroke-width="0.15">Weeks on study</text>
<text transform="translate(22.7,577.8) rotate(-90)" font-size="9.8" font-weight="bold" text-anchor="middle" fill="#111" stroke="#111" stroke-width="0.15">Patients</text>
<text x="0.40" y="800.80" font-size="19.5" text-anchor="start" font-weight="bold" fill="#000" >D</text>
<rect x="80.4" y="793.6" width="199.6" height="219.9" fill="#fff"/>
<rect x="292.5" y="793.6" width="194.5" height="219.9" fill="#fff"/>
<g clip-path="url(#clipL)">
<path d="M83,795 L104,795 L126,823 L141,834 L158,832 L157,800 L200,800 L199,832 L216,834 L226,830 L252,795 L279,795 L279,803 L247,846 L246,870 L244,905 L238,935 L233,965 L231,990 L228,1016 L105,1016 L109,995 L115,965 L117,940 L114,905 L113,870 L116,848 L106,828 L83,803 Z" fill="#f1f1f1" filter="url(#b1)"/>
<path d="M88,797 L99,797 L122,825 L114,829 Z" fill="#e9e9e9" filter="url(#b2)"/>
<path d="M259,797 L271,797 L245,831 L237,829 Z" fill="#e9e9e9" filter="url(#b2)"/>
<path d="M120,846 Q178,834 240,846 L242,905 L236,935 L231,965 L229,990 L226,1016 L110,1016 L113,995 L118,965 L120,940 L118,905 Z" fill="#e4e4e4" filter="url(#b3)"/>
<ellipse cx="178.00" cy="958.00" rx="52.00" ry="22.00" fill="#dadada" filter="url(#b3)"/>
<ellipse cx="180.00" cy="856.00" rx="16.00" ry="20.00" fill="#d8d8d8" filter="url(#b3)"/>
<ellipse cx="172.00" cy="998.00" rx="46.00" ry="18.00" fill="#e0e0e0" filter="url(#b3)"/>
<path d="M83,795 L104,795 L126,823 L141,834 L158,832 L157,800 L200,800 L199,832 L216,834 L226,830 L252,795 L279,795 L279,803 L247,846 L246,870 L244,905 L238,935 L233,965 L231,990 L228,1016 L105,1016 L109,995 L115,965 L117,940 L114,905 L113,870 L116,848 L106,828 L83,803 Z" fill="#000" filter="url(#tex1)" opacity="0.18"/>
<path d="M83,795 L104,795 L126,823 L141,834 L158,832 L157,800 L200,800 L199,832 L216,834 L226,830 L252,795 L279,795 L279,803 L247,846 L246,870 L244,905 L238,935 L233,965 L231,990 L228,1016 L105,1016 L109,995 L115,965 L117,940 L114,905 L113,870 L116,848 L106,828 L83,803 Z" fill="#fff" filter="url(#wtex1)" opacity="0.85"/>
<path d="M83,795 L104,795 L126,823 L141,834 L158,832 L157,800 L200,800 L199,832 L216,834 L226,830 L252,795 L279,795 L279,803 L247,846 L246,870 L244,905 L238,935 L233,965 L231,990 L228,1016 L105,1016 L109,995 L115,965 L117,940 L114,905 L113,870 L116,848 L106,828 L83,803 Z" fill="#000" filter="url(#grain)" opacity="0.08"/>
<path d="M116,886 Q128,872 178,872 Q230,872 243,886 L243,925 Q230,944 178,944 Q126,944 116,925 Z" fill="#b6b6b6" filter="url(#b2)"/>
<ellipse cx="148.00" cy="902.00" rx="32.00" ry="23.00" fill="#a8a8a8" filter="url(#b3)"/>
<ellipse cx="226.00" cy="905.00" rx="16.00" ry="20.00" fill="#b2b2b2" filter="url(#b3)"/>
<ellipse cx="178.00" cy="950.00" rx="40.00" ry="10.00" fill="#cccccc" filter="url(#b3)"/>
<ellipse cx="148.50" cy="926.00" rx="10.00" ry="11.50" fill="#a0a0a0" filter="url(#b1)"/>
<ellipse cx="148.50" cy="926.00" rx="5.00" ry="6.00" fill="#b0b0b0" filter="url(#b1)"/>
<ellipse cx="206.00" cy="930.50" rx="11.00" ry="13.00" fill="#a6a6a6" filter="url(#b1)"/>
<ellipse cx="207.00" cy="930.50" rx="5.50" ry="7.50" fill="#b6b6b6" filter="url(#b1)"/>
<path d="M116,886 Q128,872 178,872 Q230,872 243,886 L243,925 Q230,944 178,944 Q126,944 116,925 Z" fill="#fff" filter="url(#wtex3)" opacity="0.45"/>
<ellipse cx="178.00" cy="806.00" rx="28.00" ry="16.00" fill="#d4d4d4" filter="url(#b2)"/>
<ellipse cx="178.00" cy="824.00" rx="14.00" ry="10.00" fill="#cfcfcf" filter="url(#b2)"/>
<path d="M167,815 Q178,811 190,815 Q192,826 184,831 Q178,833 172,831 Q164,826 167,815 Z" fill="#8a8a8a" filter="url(#b1)"/>
<ellipse cx="169.50" cy="822.50" rx="3.20" ry="5.20" fill="#1e1e1e" filter="url(#b1)" transform="rotate(-25 169.5 822.5)"/>
<ellipse cx="187.50" cy="822.50" rx="3.20" ry="5.20" fill="#1e1e1e" filter="url(#b1)" transform="rotate(25 187.5 822.5)"/>
<ellipse cx="178.50" cy="829.50" rx="6.00" ry="2.20" fill="#555" filter="url(#b1)"/>
<ellipse cx="178.50" cy="820.00" rx="5.00" ry="3.50" fill="#a8a8a8" filter="url(#b1)"/>
<path d="M153,792 L204,792 Q203,798 197,801.5 Q190,803 185,803.5 Q181,805 178,805 Q175,805 171,803.5 Q166,803 160,801.5 Q154,798 153,792 Z" fill="#242424" filter="url(#b05)"/>
<ellipse cx="198.00" cy="838.00" rx="12.00" ry="7.00" fill="#b8b8b8" filter="url(#b2)"/>
<ellipse cx="190.80" cy="839.60" rx="3.60" ry="3.60" fill="#0a0a0a" filter="url(#b05)"/>
<ellipse cx="191.50" cy="833.80" rx="3.00" ry="3.00" fill="#3a3a3a" filter="url(#b05)"/>
<ellipse cx="201.50" cy="834.60" rx="3.10" ry="3.10" fill="#4a4a4a" filter="url(#b05)"/>
<ellipse cx="207.70" cy="833.80" rx="2.90" ry="2.90" fill="#5a5a5a" filter="url(#b05)"/>
<ellipse cx="177.00" cy="838.50" rx="3.20" ry="3.20" fill="#8a8a8a" filter="url(#b05)"/>
<ellipse cx="164.60" cy="843.00" rx="2.60" ry="2.60" fill="#808080" filter="url(#b05)"/>
<ellipse cx="193.00" cy="844.00" rx="2.60" ry="2.60" fill="#222" filter="url(#b05)"/>
<ellipse cx="197.50" cy="839.00" rx="2.40" ry="2.40" fill="#444" filter="url(#b05)"/>
<ellipse cx="203.00" cy="841.00" rx="2.00" ry="2.00" fill="#777" filter="url(#b05)"/>
<ellipse cx="160.00" cy="877.00" rx="5.60" ry="6.20" fill="#808080" filter="url(#b1)" opacity="0.6"/>
<ellipse cx="157.00" cy="881.00" rx="4.40" ry="4.40" fill="#808080" filter="url(#b1)" opacity="0.6"/>
<ellipse cx="180.00" cy="874.60" rx="5.00" ry="4.60" fill="#808080" filter="url(#b1)" opacity="0.6"/>
<ellipse cx="189.20" cy="876.00" rx="4.00" ry="4.00" fill="#808080" filter="url(#b1)" opacity="0.6"/>
<ellipse cx="195.60" cy="873.30" rx="4.40" ry="4.40" fill="#808080" filter="url(#b1)" opacity="0.6"/>
<ellipse cx="201.50" cy="865.40" rx="4.20" ry="4.20" fill="#808080" filter="url(#b1)" opacity="0.6"/>
<ellipse cx="206.00" cy="875.00" rx="5.20" ry="6.80" fill="#808080" filter="url(#b1)" opacity="0.6"/>
<ellipse cx="205.90" cy="880.00" rx="4.20" ry="4.20" fill="#808080" filter="url(#b1)" opacity="0.6"/>
<ellipse cx="198.50" cy="891.50" rx="4.60" ry="4.60" fill="#808080" filter="url(#b1)" opacity="0.6"/>
<ellipse cx="127.00" cy="894.60" rx="4.70" ry="4.70" fill="#808080" filter="url(#b1)" opacity="0.6"/>
<ellipse cx="146.00" cy="890.00" rx="4.60" ry="4.60" fill="#808080" filter="url(#b1)" opacity="0.6"/>
<ellipse cx="145.50" cy="904.50" rx="6.80" ry="6.00" fill="#808080" filter="url(#b1)" opacity="0.6"/>
<ellipse cx="140.00" cy="910.60" rx="4.60" ry="4.60" fill="#808080" filter="url(#b1)" opacity="0.6"/>
<ellipse cx="163.00" cy="907.00" rx="4.80" ry="4.80" fill="#808080" filter="url(#b1)" opacity="0.6"/>
<ellipse cx="171.40" cy="909.40" rx="4.80" ry="4.80" fill="#808080" filter="url(#b1)" opacity="0.6"/>
<ellipse cx="157.80" cy="910.60" rx="4.30" ry="4.30" fill="#808080" filter="url(#b1)" opacity="0.6"/>
<ellipse cx="124.00" cy="917.00" rx="4.20" ry="4.20" fill="#808080" filter="url(#b1)" opacity="0.6"/>
<ellipse cx="167.70" cy="927.00" rx="4.80" ry="4.80" fill="#808080" filter="url(#b1)" opacity="0.6"/>
<ellipse cx="172.30" cy="931.50" rx="4.60" ry="4.60" fill="#808080" filter="url(#b1)" opacity="0.6"/>
<ellipse cx="170.80" cy="948.50" rx="3.80" ry="3.80" fill="#808080" filter="url(#b1)" opacity="0.6"/>
<ellipse cx="167.70" cy="896.00" rx="3.80" ry="3.80" fill="#808080" filter="url(#b1)" opacity="0.6"/>
<ellipse cx="226.00" cy="885.00" rx="3.70" ry="3.70" fill="#808080" filter="url(#b1)" opacity="0.6"/>
<ellipse cx="213.00" cy="970.00" rx="3.70" ry="3.70" fill="#808080" filter="url(#b1)" opacity="0.6"/>
<ellipse cx="143.70" cy="992.00" rx="3.70" ry="3.70" fill="#808080" filter="url(#b1)" opacity="0.6"/>
<ellipse cx="115.40" cy="1006.00" rx="3.80" ry="3.80" fill="#808080" filter="url(#b1)" opacity="0.6"/>
<ellipse cx="107.30" cy="1009.00" rx="3.50" ry="3.50" fill="#808080" filter="url(#b1)" opacity="0.6"/>
<ellipse cx="182.00" cy="938.00" rx="5.00" ry="5.00" fill="#808080" filter="url(#b1)" opacity="0.6"/>
<ellipse cx="176.00" cy="924.00" rx="3.80" ry="3.80" fill="#808080" filter="url(#b1)" opacity="0.6"/>
<ellipse cx="174.00" cy="934.00" rx="4.00" ry="4.00" fill="#808080" filter="url(#b1)" opacity="0.6"/>
<ellipse cx="183.00" cy="868.00" rx="3.60" ry="3.60" fill="#808080" filter="url(#b1)" opacity="0.6"/>
<ellipse cx="172.00" cy="866.00" rx="3.50" ry="3.50" fill="#808080" filter="url(#b1)" opacity="0.6"/>
<ellipse cx="214.00" cy="892.00" rx="3.60" ry="3.60" fill="#808080" filter="url(#b1)" opacity="0.6"/>
<ellipse cx="135.00" cy="880.00" rx="3.50" ry="3.50" fill="#808080" filter="url(#b1)" opacity="0.6"/>
<ellipse cx="160.00" cy="877.00" rx="3.60" ry="4.20" fill="#000" filter="url(#b05)"/>
<ellipse cx="157.00" cy="881.00" rx="2.40" ry="2.40" fill="#111" filter="url(#b05)"/>
<ellipse cx="180.00" cy="874.60" rx="3.00" ry="2.60" fill="#050505" filter="url(#b05)"/>
<ellipse cx="189.20" cy="876.00" rx="2.00" ry="2.00" fill="#222" filter="url(#b05)"/>
<ellipse cx="195.60" cy="873.30" rx="2.40" ry="2.40" fill="#111" filter="url(#b05)"/>
<ellipse cx="201.50" cy="865.40" rx="2.20" ry="2.20" fill="#111" filter="url(#b05)"/>
<ellipse cx="206.00" cy="875.00" rx="3.20" ry="4.80" fill="#000" filter="url(#b05)"/>
<ellipse cx="205.90" cy="880.00" rx="2.20" ry="2.20" fill="#222" filter="url(#b05)"/>
<ellipse cx="198.50" cy="891.50" rx="2.60" ry="2.60" fill="#333" filter="url(#b05)"/>
<ellipse cx="127.00" cy="894.60" rx="2.70" ry="2.70" fill="#2a2a2a" filter="url(#b05)"/>
<ellipse cx="146.00" cy="890.00" rx="2.60" ry="2.60" fill="#111" filter="url(#b05)"/>
<ellipse cx="145.50" cy="904.50" rx="4.80" ry="4.00" fill="#000" filter="url(#b05)"/>
<ellipse cx="140.00" cy="910.60" rx="2.60" ry="2.60" fill="#1a1a1a" filter="url(#b05)"/>
<ellipse cx="163.00" cy="907.00" rx="2.80" ry="2.80" fill="#111" filter="url(#b05)"/>
<ellipse cx="171.40" cy="909.40" rx="2.80" ry="2.80" fill="#111" filter="url(#b05)"/>
<ellipse cx="157.80" cy="910.60" rx="2.30" ry="2.30" fill="#222" filter="url(#b05)"/>
<ellipse cx="124.00" cy="917.00" rx="2.20" ry="2.20" fill="#444" filter="url(#b05)"/>
<ellipse cx="167.70" cy="927.00" rx="2.80" ry="2.80" fill="#111" filter="url(#b05)"/>
<ellipse cx="172.30" cy="931.50" rx="2.60" ry="2.60" fill="#222" filter="url(#b05)"/>
<ellipse cx="170.80" cy="948.50" rx="1.80" ry="1.80" fill="#222" filter="url(#b05)"/>
<ellipse cx="167.70" cy="896.00" rx="1.80" ry="1.80" fill="#333" filter="url(#b05)"/>
<ellipse cx="226.00" cy="885.00" rx="1.70" ry="1.70" fill="#777" filter="url(#b05)"/>
<ellipse cx="213.00" cy="970.00" rx="1.70" ry="1.70" fill="#333" filter="url(#b05)"/>
<ellipse cx="143.70" cy="992.00" rx="1.70" ry="1.70" fill="#444" filter="url(#b05)"/>
<ellipse cx="115.40" cy="1006.00" rx="1.80" ry="1.80" fill="#333" filter="url(#b05)"/>
<ellipse cx="107.30" cy="1009.00" rx="1.50" ry="1.50" fill="#555" filter="url(#b05)"/>
<ellipse cx="182.00" cy="938.00" rx="3.00" ry="3.00" fill="#000" filter="url(#b05)"/>
<ellipse cx="176.00" cy="924.00" rx="1.80" ry="1.80" fill="#333" filter="url(#b05)"/>
<ellipse cx="174.00" cy="934.00" rx="2.00" ry="2.00" fill="#222" filter="url(#b05)"/>
<ellipse cx="183.00" cy="868.00" rx="1.60" ry="1.60" fill="#555" filter="url(#b05)"/>
<ellipse cx="172.00" cy="866.00" rx="1.50" ry="1.50" fill="#777" filter="url(#b05)"/>
<ellipse cx="214.00" cy="892.00" rx="1.60" ry="1.60" fill="#666" filter="url(#b05)"/>
<ellipse cx="135.00" cy="880.00" rx="1.50" ry="1.50" fill="#777" filter="url(#b05)"/>
<path d="M183,926 Q189,922 193,926 Q196,931 192,936 Q190,940 190,944 Q188,950 182,949 Q177,947 178,941 Q179,936 183,933 Q181,929 183,926 Z" fill="#000" filter="url(#b05)"/>
<ellipse cx="170.50" cy="929.00" rx="4.00" ry="6.50" fill="#1a1a1a" filter="url(#b1)"/>
<ellipse cx="174.00" cy="935.00" rx="2.50" ry="3.00" fill="#222" filter="url(#b05)"/>
<ellipse cx="179.00" cy="1003.00" rx="4.00" ry="10.00" fill="#c8c8c8" filter="url(#b2)"/>
<ellipse cx="172.00" cy="987.60" rx="13.80" ry="6.50" fill="#000" filter="url(#b05)"/>
</g>
<text x="276.20" y="1001.20" font-size="14.6" text-anchor="end" font-weight="bold" fill="#000" >Baseline</text>
<g clip-path="url(#clipR)">
<path d="M300,795 L318,795 L341,828 L352,834 L367,832 L366,800 L409,800 L408,832 L428,836 L449,828 L466,795 L487,795 L487,803 L472,830 L455,848 L452,870 L453,905 L447,935 L446,965 L449,990 L449,1016 L330,1016 L330,995 L326,965 L324,940 L323,905 L324,870 L327,852 L318,835 L300,805 Z" fill="#f1f1f1" filter="url(#b1)"/>
<path d="M305,797 L314,797 L338,828 L330,832 Z" fill="#e9e9e9" filter="url(#b2)"/>
<path d="M471,798 L480,798 L462,830 L455,828 Z" fill="#e9e9e9" filter="url(#b2)"/>
<path d="M330,848 Q388,836 450,848 L451,905 L445,935 L444,965 L447,990 L447,1016 L333,1016 L333,995 L329,965 L327,940 L326,905 Z" fill="#e3e3e3" filter="url(#b3)"/>
<ellipse cx="390.00" cy="925.00" rx="48.00" ry="28.00" fill="#d4d4d4" filter="url(#b3)"/>
<ellipse cx="388.00" cy="962.00" rx="46.00" ry="18.00" fill="#d8d8d8" filter="url(#b3)"/>
<ellipse cx="388.00" cy="998.00" rx="42.00" ry="16.00" fill="#dedede" filter="url(#b3)"/>
<ellipse cx="387.00" cy="830.00" rx="6.00" ry="26.00" fill="#c8c8c8" filter="url(#b2)"/>
<ellipse cx="389.00" cy="858.00" rx="16.00" ry="22.00" fill="#d6d6d6" filter="url(#b3)"/>
<path d="M300,795 L318,795 L341,828 L352,834 L367,832 L366,800 L409,800 L408,832 L428,836 L449,828 L466,795 L487,795 L487,803 L472,830 L455,848 L452,870 L453,905 L447,935 L446,965 L449,990 L449,1016 L330,1016 L330,995 L326,965 L324,940 L323,905 L324,870 L327,852 L318,835 L300,805 Z" fill="#000" filter="url(#tex2)" opacity="0.18"/>
<path d="M300,795 L318,795 L341,828 L352,834 L367,832 L366,800 L409,800 L408,832 L428,836 L449,828 L466,795 L487,795 L487,803 L472,830 L455,848 L452,870 L453,905 L447,935 L446,965 L449,990 L449,1016 L330,1016 L330,995 L326,965 L324,940 L323,905 L324,870 L327,852 L318,835 L300,805 Z" fill="#fff" filter="url(#wtex2)" opacity="0.8"/>
<path d="M300,795 L318,795 L341,828 L352,834 L367,832 L366,800 L409,800 L408,832 L428,836 L449,828 L466,795 L487,795 L487,803 L472,830 L455,848 L452,870 L453,905 L447,935 L446,965 L449,990 L449,1016 L330,1016 L330,995 L326,965 L324,940 L323,905 L324,870 L327,852 L318,835 L300,805 Z" fill="#000" filter="url(#grain)" opacity="0.08"/>
<path d="M327,889 Q330,882 350,882 L377,882 Q385,884 384,894 Q383,902 375,906 Q357,912 343,921 Q334,927 329,919 Q325,905 327,889 Z" fill="#a8a8a8" filter="url(#b15)"/>
<path d="M412,895 Q430,888 447,895 Q451,906 446,915 Q432,919 420,916 Q410,908 412,895 Z" fill="#acacac" filter="url(#b15)"/>
<ellipse cx="398.00" cy="911.00" rx="15.00" ry="8.00" fill="#c2c2c2" filter="url(#b2)"/>
<ellipse cx="360.00" cy="922.50" rx="10.50" ry="11.50" fill="#a6a6a6" filter="url(#b1)"/>
<ellipse cx="418.00" cy="925.50" rx="9.50" ry="10.50" fill="#aaaaaa" filter="url(#b1)"/>
<ellipse cx="417.00" cy="925.50" rx="4.50" ry="5.50" fill="#c4c4c4" filter="url(#b1)"/>
<path d="M393,883 Q396,876 407,876 Q419,878 418,887 Q416,895 406,895 Q395,894 393,883 Z" fill="#333" filter="url(#b1)"/>
<ellipse cx="405.00" cy="886.00" rx="5.00" ry="3.40" fill="#8e8e8e" filter="url(#b05)"/>
<ellipse cx="361.40" cy="913.50" rx="2.00" ry="2.00" fill="#222" filter="url(#b05)"/>
<ellipse cx="365.00" cy="924.40" rx="2.30" ry="2.30" fill="#1a1a1a" filter="url(#b05)"/>
<ellipse cx="355.70" cy="920.60" rx="1.80" ry="1.80" fill="#3a3a3a" filter="url(#b05)"/>
<ellipse cx="360.00" cy="928.00" rx="1.50" ry="1.50" fill="#555" filter="url(#b05)"/>
<ellipse cx="421.00" cy="921.00" rx="1.40" ry="1.40" fill="#666" filter="url(#b05)"/>
<ellipse cx="415.00" cy="928.00" rx="1.30" ry="1.30" fill="#777" filter="url(#b05)"/>
<ellipse cx="387.00" cy="806.00" rx="27.00" ry="15.00" fill="#d2d2d2" filter="url(#b2)"/>
<ellipse cx="386.00" cy="822.00" rx="13.00" ry="10.00" fill="#cacaca" filter="url(#b2)"/>
<ellipse cx="387.00" cy="820.00" rx="10.00" ry="7.00" fill="#b4b4b4" filter="url(#b1)"/>
<ellipse cx="380.50" cy="818.00" rx="2.80" ry="3.80" fill="#6a6a6a" filter="url(#b05)"/>
<ellipse cx="393.50" cy="818.00" rx="2.80" ry="3.80" fill="#6a6a6a" filter="url(#b05)"/>
<ellipse cx="387.00" cy="824.00" rx="4.00" ry="2.00" fill="#999" filter="url(#b05)"/>
<ellipse cx="385.50" cy="838.50" rx="3.50" ry="2.50" fill="#b0b0b0" filter="url(#b1)"/>
<ellipse cx="394.00" cy="809.00" rx="3.00" ry="2.50" fill="#aaa" filter="url(#b1)"/>
<path d="M364,792 L411,792 Q410,798 403,801 Q395,803.3 387,803.3 Q378,803.3 371,801 Q365,798 364,792 Z" fill="#0c0c0c" filter="url(#b05)"/>
<ellipse cx="387.60" cy="969.40" rx="2.00" ry="2.00" fill="#444" filter="url(#b05)"/>
<ellipse cx="331.40" cy="988.50" rx="2.80" ry="2.80" fill="#999" filter="url(#b05)"/>
<ellipse cx="388.00" cy="1002.00" rx="2.50" ry="2.50" fill="#bbb" filter="url(#b05)"/>
<ellipse cx="395.00" cy="945.00" rx="3.00" ry="3.00" fill="#bcbcbc" filter="url(#b05)"/>
<ellipse cx="404.00" cy="874.00" rx="2.00" ry="2.00" fill="#999" filter="url(#b05)"/>
<path d="M375.6,983 Q377,977.6 389.5,977.6 Q402,977.6 403.4,983 Q404,991.4 389.5,991.4 Q375,991.4 375.6,983 Z" fill="#000" filter="url(#b05)"/>
<ellipse cx="388.00" cy="930.00" rx="2.50" ry="2.00" fill="#c4c4c4" filter="url(#b1)"/>
<ellipse cx="388.00" cy="940.00" rx="2.50" ry="2.00" fill="#c4c4c4" filter="url(#b1)"/>
<ellipse cx="388.00" cy="950.00" rx="2.50" ry="2.00" fill="#c4c4c4" filter="url(#b1)"/>
<ellipse cx="388.00" cy="958.00" rx="2.50" ry="2.00" fill="#c4c4c4" filter="url(#b1)"/>
</g>
<text x="481.00" y="1001.20" font-size="14.7" text-anchor="end" font-weight="bold" fill="#000" >Week 5</text>
<rect x="80.60" y="793.9" width="198.90" height="219.90" fill="none" stroke="#454545" stroke-width="1.25"/>
<rect x="292.60" y="793.9" width="194.30" height="219.90" fill="none" stroke="#454545" stroke-width="1.25"/>
</svg>
</body></html>
